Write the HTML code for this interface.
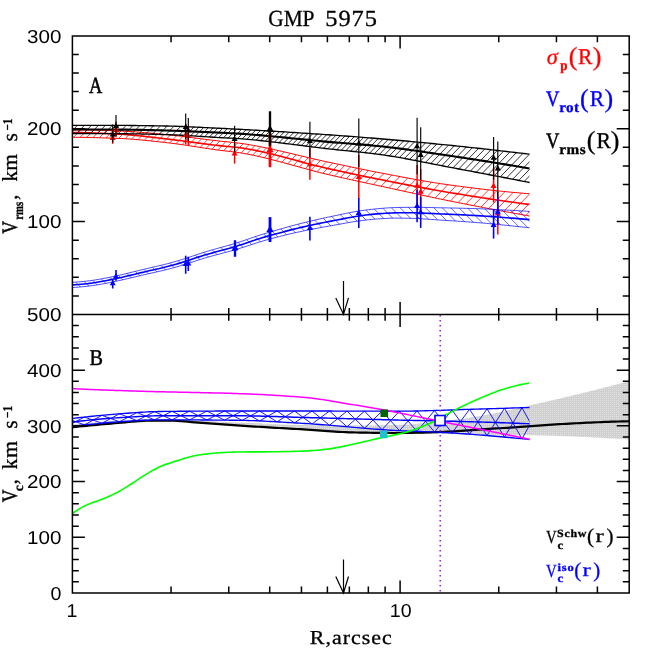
<!DOCTYPE html>
<html><head><meta charset="utf-8"><title>GMP 5975</title>
<style>html,body{margin:0;padding:0;background:#fff}svg{display:block;will-change:transform}text{-webkit-font-smoothing:antialiased;text-rendering:geometricPrecision}</style></head>
<body><svg width="664" height="664" viewBox="0 0 664 664">
<rect width="664" height="664" fill="#fff"/>
<defs>
<clipPath id="cb1"><path d="M72.50 129.80 L75.37 129.81 L78.25 129.83 L81.12 129.86 L84.00 129.90 L86.87 129.95 L89.75 130.01 L92.62 130.08 L95.49 130.15 L98.37 130.23 L101.24 130.32 L104.12 130.42 L106.99 130.52 L109.86 130.62 L112.74 130.72 L115.61 130.83 L118.49 130.94 L121.36 131.05 L124.24 131.19 L127.11 131.34 L129.98 131.51 L132.86 131.70 L135.73 131.90 L138.61 132.12 L141.48 132.35 L144.36 132.59 L147.23 132.84 L150.10 133.10 L152.98 133.37 L155.85 133.64 L158.73 133.91 L161.60 134.18 L164.47 134.46 L167.35 134.73 L170.22 135.02 L173.10 135.32 L175.97 135.64 L178.85 135.97 L181.72 136.32 L184.59 136.67 L187.47 137.03 L190.34 137.39 L193.22 137.76 L196.09 138.14 L198.97 138.51 L201.84 138.88 L204.71 139.25 L207.59 139.62 L210.46 139.97 L213.34 140.33 L216.21 140.67 L219.08 141.00 L221.96 141.31 L224.83 141.60 L227.71 141.88 L230.58 142.16 L233.46 142.46 L236.33 142.79 L239.20 143.16 L242.08 143.56 L244.95 143.99 L247.83 144.45 L250.70 144.93 L253.58 145.44 L256.45 145.97 L259.32 146.51 L262.20 147.08 L265.07 147.67 L267.95 148.27 L270.82 148.88 L273.69 149.51 L276.57 150.15 L279.44 150.81 L282.32 151.47 L285.19 152.14 L288.07 152.81 L290.94 153.49 L293.81 154.18 L296.69 154.86 L299.56 155.55 L302.44 156.23 L305.31 156.92 L308.19 157.60 L311.06 158.27 L313.93 158.94 L316.81 159.60 L319.68 160.26 L322.56 160.90 L325.43 161.53 L328.31 162.14 L331.18 162.75 L334.05 163.35 L336.93 163.95 L339.80 164.56 L342.68 165.17 L345.55 165.78 L348.42 166.38 L351.30 166.99 L354.17 167.60 L357.05 168.20 L359.92 168.79 L362.80 169.39 L365.67 169.97 L368.54 170.56 L371.42 171.13 L374.29 171.70 L377.17 172.26 L380.04 172.81 L382.92 173.35 L385.79 173.90 L388.66 174.45 L391.54 175.00 L394.41 175.54 L397.29 176.09 L400.16 176.63 L403.03 177.17 L405.91 177.71 L408.78 178.24 L411.66 178.77 L414.53 179.29 L417.41 179.80 L420.28 180.31 L423.15 180.81 L426.03 181.31 L428.90 181.79 L431.78 182.26 L434.65 182.73 L437.53 183.18 L440.40 183.62 L443.27 184.05 L446.15 184.46 L449.02 184.87 L451.90 185.26 L454.77 185.64 L457.64 186.02 L460.52 186.40 L463.39 186.77 L466.27 187.14 L469.14 187.51 L472.02 187.87 L474.89 188.22 L477.76 188.57 L480.64 188.92 L483.51 189.25 L486.39 189.59 L489.26 189.91 L492.14 190.23 L495.01 190.55 L497.88 190.86 L500.76 191.16 L503.63 191.45 L506.51 191.74 L509.38 192.02 L512.25 192.29 L515.13 192.55 L518.00 192.81 L520.88 193.06 L523.75 193.30 L526.63 193.53 L529.50 193.75 L529.50 216.00 L526.63 215.50 L523.75 214.99 L520.88 214.48 L518.00 213.96 L515.13 213.45 L512.25 212.93 L509.38 212.40 L506.51 211.88 L503.63 211.35 L500.76 210.82 L497.88 210.28 L495.01 209.75 L492.14 209.21 L489.26 208.66 L486.39 208.12 L483.51 207.57 L480.64 207.02 L477.76 206.47 L474.89 205.91 L472.02 205.36 L469.14 204.79 L466.27 204.23 L463.39 203.67 L460.52 203.10 L457.64 202.53 L454.77 201.96 L451.90 201.38 L449.02 200.80 L446.15 200.22 L443.27 199.63 L440.40 199.04 L437.53 198.44 L434.65 197.84 L431.78 197.24 L428.90 196.63 L426.03 196.02 L423.15 195.40 L420.28 194.78 L417.41 194.16 L414.53 193.54 L411.66 192.92 L408.78 192.29 L405.91 191.66 L403.03 191.03 L400.16 190.41 L397.29 189.78 L394.41 189.15 L391.54 188.52 L388.66 187.89 L385.79 187.26 L382.92 186.63 L380.04 186.01 L377.17 185.39 L374.29 184.76 L371.42 184.14 L368.54 183.52 L365.67 182.90 L362.80 182.28 L359.92 181.65 L357.05 181.03 L354.17 180.40 L351.30 179.77 L348.42 179.14 L345.55 178.51 L342.68 177.87 L339.80 177.23 L336.93 176.58 L334.05 175.93 L331.18 175.27 L328.31 174.61 L325.43 173.92 L322.56 173.22 L319.68 172.50 L316.81 171.76 L313.93 171.01 L311.06 170.25 L308.19 169.48 L305.31 168.70 L302.44 167.91 L299.56 167.12 L296.69 166.33 L293.81 165.54 L290.94 164.74 L288.07 163.95 L285.19 163.17 L282.32 162.39 L279.44 161.62 L276.57 160.86 L273.69 160.11 L270.82 159.37 L267.95 158.65 L265.07 157.95 L262.20 157.26 L259.32 156.60 L256.45 155.96 L253.58 155.34 L250.70 154.75 L247.83 154.19 L244.95 153.66 L242.08 153.15 L239.20 152.69 L236.33 152.26 L233.46 151.88 L230.58 151.53 L227.71 151.21 L224.83 150.88 L221.96 150.55 L219.08 150.18 L216.21 149.79 L213.34 149.39 L210.46 148.98 L207.59 148.55 L204.71 148.12 L201.84 147.68 L198.97 147.23 L196.09 146.79 L193.22 146.34 L190.34 145.90 L187.47 145.46 L184.59 145.04 L181.72 144.62 L178.85 144.21 L175.97 143.82 L173.10 143.44 L170.22 143.09 L167.35 142.75 L164.47 142.43 L161.60 142.12 L158.73 141.80 L155.85 141.49 L152.98 141.18 L150.10 140.87 L147.23 140.57 L144.36 140.28 L141.48 140.01 L138.61 139.74 L135.73 139.49 L132.86 139.26 L129.98 139.05 L127.11 138.86 L124.24 138.70 L121.36 138.56 L118.49 138.44 L115.61 138.33 L112.74 138.22 L109.86 138.11 L106.99 138.01 L104.12 137.91 L101.24 137.82 L98.37 137.73 L95.49 137.64 L92.62 137.57 L89.75 137.50 L86.87 137.44 L84.00 137.39 L81.12 137.35 L78.25 137.32 L75.37 137.31 L72.50 137.30 Z"/></clipPath>
<clipPath id="cb2"><path d="M72.50 282.30 L75.37 282.13 L78.25 281.92 L81.12 281.67 L84.00 281.40 L86.87 281.09 L89.75 280.72 L92.62 280.32 L95.49 279.89 L98.37 279.42 L101.24 278.92 L104.12 278.38 L106.99 277.83 L109.86 277.25 L112.74 276.65 L115.61 276.03 L118.49 275.40 L121.36 274.74 L124.24 274.06 L127.11 273.36 L129.98 272.67 L132.86 271.97 L135.73 271.27 L138.61 270.56 L141.48 269.87 L144.36 269.19 L147.23 268.51 L150.10 267.84 L152.98 267.17 L155.85 266.50 L158.73 265.84 L161.60 265.17 L164.47 264.46 L167.35 263.72 L170.22 262.94 L173.10 262.14 L175.97 261.33 L178.85 260.49 L181.72 259.63 L184.59 258.75 L187.47 257.84 L190.34 256.88 L193.22 255.88 L196.09 254.87 L198.97 253.91 L201.84 253.00 L204.71 252.11 L207.59 251.25 L210.46 250.40 L213.34 249.57 L216.21 248.76 L219.08 247.96 L221.96 247.16 L224.83 246.35 L227.71 245.55 L230.58 244.74 L233.46 243.90 L236.33 243.01 L239.20 242.10 L242.08 241.16 L244.95 240.20 L247.83 239.23 L250.70 238.22 L253.58 237.22 L256.45 236.25 L259.32 235.31 L262.20 234.39 L265.07 233.49 L267.95 232.61 L270.82 231.76 L273.69 230.94 L276.57 230.13 L279.44 229.31 L282.32 228.49 L285.19 227.66 L288.07 226.84 L290.94 226.05 L293.81 225.29 L296.69 224.54 L299.56 223.81 L302.44 223.09 L305.31 222.38 L308.19 221.68 L311.06 221.00 L313.93 220.32 L316.81 219.66 L319.68 219.00 L322.56 218.36 L325.43 217.73 L328.31 217.12 L331.18 216.52 L334.05 215.92 L336.93 215.32 L339.80 214.70 L342.68 214.07 L345.55 213.46 L348.42 212.88 L351.30 212.33 L354.17 211.81 L357.05 211.31 L359.92 210.86 L362.80 210.44 L365.67 210.04 L368.54 209.67 L371.42 209.34 L374.29 209.04 L377.17 208.76 L380.04 208.51 L382.92 208.28 L385.79 208.06 L388.66 207.85 L391.54 207.68 L394.41 207.56 L397.29 207.50 L400.16 207.45 L403.03 207.41 L405.91 207.37 L408.78 207.34 L411.66 207.30 L414.53 207.27 L417.41 207.26 L420.28 207.29 L423.15 207.35 L426.03 207.42 L428.90 207.50 L431.78 207.57 L434.65 207.64 L437.53 207.72 L440.40 207.79 L443.27 207.84 L446.15 207.89 L449.02 207.94 L451.90 208.00 L454.77 208.06 L457.64 208.13 L460.52 208.20 L463.39 208.27 L466.27 208.35 L469.14 208.43 L472.02 208.51 L474.89 208.61 L477.76 208.70 L480.64 208.81 L483.51 208.92 L486.39 209.05 L489.26 209.18 L492.14 209.32 L495.01 209.47 L497.88 209.62 L500.76 209.77 L503.63 209.92 L506.51 210.08 L509.38 210.23 L512.25 210.39 L515.13 210.55 L518.00 210.72 L520.88 210.88 L523.75 211.05 L526.63 211.22 L529.50 211.40 L529.50 227.80 L526.63 227.48 L523.75 227.17 L520.88 226.85 L518.00 226.55 L515.13 226.24 L512.25 225.94 L509.38 225.64 L506.51 225.35 L503.63 225.06 L500.76 224.77 L497.88 224.48 L495.01 224.20 L492.14 223.91 L489.26 223.64 L486.39 223.37 L483.51 223.12 L480.64 222.87 L477.76 222.64 L474.89 222.41 L472.02 222.19 L469.14 221.98 L466.27 221.77 L463.39 221.57 L460.52 221.37 L457.64 221.17 L454.77 220.98 L451.90 220.79 L449.02 220.61 L446.15 220.43 L443.27 220.26 L440.40 220.07 L437.53 219.87 L434.65 219.67 L431.78 219.46 L428.90 219.26 L426.03 219.06 L423.15 218.86 L420.28 218.68 L417.41 218.54 L414.53 218.44 L411.66 218.35 L408.78 218.28 L405.91 218.23 L403.03 218.18 L400.16 218.14 L397.29 218.11 L394.41 218.10 L391.54 218.15 L388.66 218.27 L385.79 218.43 L382.92 218.60 L380.04 218.78 L377.17 218.99 L374.29 219.23 L371.42 219.49 L368.54 219.77 L365.67 220.09 L362.80 220.44 L359.92 220.82 L357.05 221.22 L354.17 221.65 L351.30 222.12 L348.42 222.59 L345.55 223.10 L342.68 223.63 L339.80 224.18 L336.93 224.70 L334.05 225.21 L331.18 225.70 L328.31 226.20 L325.43 226.70 L322.56 227.23 L319.68 227.76 L316.81 228.30 L313.93 228.85 L311.06 229.41 L308.19 229.98 L305.31 230.56 L302.44 231.16 L299.56 231.77 L296.69 232.39 L293.81 233.02 L290.94 233.68 L288.07 234.37 L285.19 235.08 L282.32 235.82 L279.44 236.55 L276.57 237.28 L273.69 238.01 L270.82 238.76 L267.95 239.53 L265.07 240.35 L262.20 241.19 L259.32 242.06 L256.45 242.95 L253.58 243.87 L250.70 244.83 L247.83 245.79 L244.95 246.72 L242.08 247.63 L239.20 248.52 L236.33 249.40 L233.46 250.24 L230.58 251.05 L227.71 251.82 L224.83 252.58 L221.96 253.35 L219.08 254.12 L216.21 254.88 L213.34 255.66 L210.46 256.45 L207.59 257.27 L204.71 258.10 L201.84 258.96 L198.97 259.84 L196.09 260.77 L193.22 261.75 L190.34 262.73 L187.47 263.66 L184.59 264.55 L181.72 265.41 L178.85 266.24 L175.97 267.05 L173.10 267.85 L170.22 268.63 L167.35 269.39 L164.47 270.11 L161.60 270.79 L158.73 271.45 L155.85 272.09 L152.98 272.74 L150.10 273.39 L147.23 274.04 L144.36 274.70 L141.48 275.36 L138.61 276.04 L135.73 276.72 L132.86 277.41 L129.98 278.09 L127.11 278.77 L124.24 279.44 L121.36 280.11 L118.49 280.75 L115.61 281.38 L112.74 281.98 L109.86 282.57 L106.99 283.13 L104.12 283.67 L101.24 284.19 L98.37 284.69 L95.49 285.14 L92.62 285.56 L89.75 285.96 L86.87 286.32 L84.00 286.62 L81.12 286.89 L78.25 287.13 L75.37 287.33 L72.50 287.50 Z"/></clipPath>
<clipPath id="cb3"><path d="M72.50 125.30 L75.37 125.30 L78.25 125.30 L81.12 125.30 L84.00 125.31 L86.87 125.31 L89.75 125.32 L92.62 125.32 L95.49 125.33 L98.37 125.33 L101.24 125.34 L104.12 125.35 L106.99 125.36 L109.86 125.37 L112.74 125.37 L115.61 125.38 L118.49 125.39 L121.36 125.41 L124.24 125.42 L127.11 125.44 L129.98 125.46 L132.86 125.49 L135.73 125.52 L138.61 125.55 L141.48 125.59 L144.36 125.63 L147.23 125.67 L150.10 125.71 L152.98 125.76 L155.85 125.81 L158.73 125.86 L161.60 125.92 L164.47 125.97 L167.35 126.03 L170.22 126.10 L173.10 126.18 L175.97 126.27 L178.85 126.37 L181.72 126.48 L184.59 126.59 L187.47 126.72 L190.34 126.84 L193.22 126.98 L196.09 127.12 L198.97 127.26 L201.84 127.40 L204.71 127.55 L207.59 127.69 L210.46 127.84 L213.34 127.98 L216.21 128.12 L219.08 128.26 L221.96 128.39 L224.83 128.53 L227.71 128.67 L230.58 128.81 L233.46 128.96 L236.33 129.11 L239.20 129.27 L242.08 129.42 L244.95 129.58 L247.83 129.74 L250.70 129.90 L253.58 130.06 L256.45 130.23 L259.32 130.39 L262.20 130.56 L265.07 130.73 L267.95 130.90 L270.82 131.07 L273.69 131.24 L276.57 131.42 L279.44 131.59 L282.32 131.77 L285.19 131.95 L288.07 132.13 L290.94 132.31 L293.81 132.49 L296.69 132.67 L299.56 132.86 L302.44 133.05 L305.31 133.23 L308.19 133.42 L311.06 133.61 L313.93 133.80 L316.81 134.00 L319.68 134.19 L322.56 134.39 L325.43 134.58 L328.31 134.78 L331.18 134.98 L334.05 135.18 L336.93 135.39 L339.80 135.60 L342.68 135.81 L345.55 136.02 L348.42 136.23 L351.30 136.45 L354.17 136.67 L357.05 136.89 L359.92 137.12 L362.80 137.34 L365.67 137.57 L368.54 137.80 L371.42 138.04 L374.29 138.27 L377.17 138.51 L380.04 138.75 L382.92 139.00 L385.79 139.24 L388.66 139.49 L391.54 139.74 L394.41 139.99 L397.29 140.25 L400.16 140.51 L403.03 140.76 L405.91 141.03 L408.78 141.29 L411.66 141.56 L414.53 141.83 L417.41 142.10 L420.28 142.37 L423.15 142.64 L426.03 142.92 L428.90 143.20 L431.78 143.48 L434.65 143.76 L437.53 144.05 L440.40 144.33 L443.27 144.62 L446.15 144.91 L449.02 145.20 L451.90 145.49 L454.77 145.79 L457.64 146.09 L460.52 146.38 L463.39 146.69 L466.27 146.99 L469.14 147.30 L472.02 147.60 L474.89 147.91 L477.76 148.23 L480.64 148.54 L483.51 148.86 L486.39 149.18 L489.26 149.50 L492.14 149.82 L495.01 150.14 L497.88 150.47 L500.76 150.80 L503.63 151.13 L506.51 151.46 L509.38 151.80 L512.25 152.14 L515.13 152.48 L518.00 152.82 L520.88 153.16 L523.75 153.50 L526.63 153.85 L529.50 154.20 L529.50 182.50 L526.63 181.94 L523.75 181.38 L520.88 180.82 L518.00 180.26 L515.13 179.70 L512.25 179.14 L509.38 178.59 L506.51 178.03 L503.63 177.48 L500.76 176.92 L497.88 176.37 L495.01 175.82 L492.14 175.27 L489.26 174.72 L486.39 174.17 L483.51 173.62 L480.64 173.08 L477.76 172.53 L474.89 171.98 L472.02 171.44 L469.14 170.90 L466.27 170.35 L463.39 169.81 L460.52 169.27 L457.64 168.73 L454.77 168.19 L451.90 167.65 L449.02 167.12 L446.15 166.57 L443.27 166.02 L440.40 165.46 L437.53 164.90 L434.65 164.33 L431.78 163.76 L428.90 163.19 L426.03 162.62 L423.15 162.05 L420.28 161.48 L417.41 160.92 L414.53 160.36 L411.66 159.81 L408.78 159.26 L405.91 158.73 L403.03 158.20 L400.16 157.69 L397.29 157.18 L394.41 156.70 L391.54 156.22 L388.66 155.77 L385.79 155.33 L382.92 154.91 L380.04 154.51 L377.17 154.12 L374.29 153.76 L371.42 153.41 L368.54 153.07 L365.67 152.74 L362.80 152.42 L359.92 152.11 L357.05 151.81 L354.17 151.51 L351.30 151.22 L348.42 150.93 L345.55 150.64 L342.68 150.34 L339.80 150.05 L336.93 149.75 L334.05 149.44 L331.18 149.13 L328.31 148.81 L325.43 148.48 L322.56 148.14 L319.68 147.80 L316.81 147.45 L313.93 147.10 L311.06 146.74 L308.19 146.38 L305.31 146.02 L302.44 145.65 L299.56 145.29 L296.69 144.92 L293.81 144.55 L290.94 144.19 L288.07 143.82 L285.19 143.46 L282.32 143.11 L279.44 142.75 L276.57 142.41 L273.69 142.06 L270.82 141.73 L267.95 141.40 L265.07 141.08 L262.20 140.77 L259.32 140.47 L256.45 140.17 L253.58 139.89 L250.70 139.62 L247.83 139.37 L244.95 139.13 L242.08 138.90 L239.20 138.68 L236.33 138.49 L233.46 138.31 L230.58 138.15 L227.71 138.00 L224.83 137.86 L221.96 137.71 L219.08 137.55 L216.21 137.38 L213.34 137.21 L210.46 137.03 L207.59 136.85 L204.71 136.67 L201.84 136.48 L198.97 136.30 L196.09 136.11 L193.22 135.93 L190.34 135.75 L187.47 135.58 L184.59 135.42 L181.72 135.26 L178.85 135.11 L175.97 134.98 L173.10 134.85 L170.22 134.74 L167.35 134.64 L164.47 134.56 L161.60 134.48 L158.73 134.40 L155.85 134.32 L152.98 134.25 L150.10 134.18 L147.23 134.12 L144.36 134.05 L141.48 134.00 L138.61 133.94 L135.73 133.89 L132.86 133.84 L129.98 133.80 L127.11 133.77 L124.24 133.74 L121.36 133.71 L118.49 133.69 L115.61 133.67 L112.74 133.65 L109.86 133.63 L106.99 133.62 L104.12 133.60 L101.24 133.58 L98.37 133.57 L95.49 133.56 L92.62 133.54 L89.75 133.53 L86.87 133.52 L84.00 133.51 L81.12 133.51 L78.25 133.50 L75.37 133.50 L72.50 133.50 Z"/></clipPath>
<pattern id="stip" width="2" height="2" patternUnits="userSpaceOnUse"><rect width="2" height="2" fill="#cfcfcf"/><rect width="1" height="1" fill="#e2e2e2"/></pattern>
<clipPath id="cbiso"><rect x="72.40" y="380" width="457.10" height="80"/></clipPath>
</defs>
<path d="M12.50 174.20 L92.50 91.00 M18.90 174.20 L98.90 91.00 M25.30 174.20 L105.30 91.00 M31.70 174.20 L111.70 91.00 M38.10 174.23 L118.10 91.03 M44.49 174.34 L124.49 91.14 M50.86 174.51 L130.86 91.31 M57.23 174.74 L137.23 91.54 M63.59 175.00 L143.59 91.80 M69.93 175.30 L149.93 92.10 M76.26 175.61 L156.26 92.41 M82.59 175.94 L162.59 92.74 M88.90 176.40 L168.90 93.20 M95.20 176.97 L175.20 93.77 M101.49 177.63 L181.49 94.43 M107.77 178.34 L187.77 95.14 M114.03 179.09 L194.03 95.89 M120.29 179.84 L200.29 96.64 M126.53 180.56 L206.53 97.36 M132.77 181.30 L212.77 98.10 M138.99 182.07 L218.99 98.87 M145.20 182.88 L225.20 99.68 M151.40 183.71 L231.40 100.51 M157.56 184.53 L237.56 101.33 M163.68 185.33 L243.68 102.13 M169.75 186.10 L249.75 102.90 M175.77 186.82 L255.77 103.62 M181.75 187.48 L261.75 104.28 M187.69 188.04 L267.69 104.84 M193.58 188.59 L273.58 105.39 M199.43 189.29 L279.43 106.09 M205.23 190.15 L285.23 106.95 M211.04 191.16 L291.04 107.96 M216.86 192.30 L296.86 109.10 M222.69 193.54 L302.69 110.34 M228.52 194.89 L308.52 111.69 M234.37 196.32 L314.37 113.12 M240.23 197.81 L320.23 114.61 M246.09 199.35 L326.09 116.15 M251.97 200.92 L331.97 117.72 M257.86 202.51 L337.86 119.31 M263.75 204.09 L343.75 120.89 M269.66 205.65 L349.66 122.45 M275.58 207.17 L355.58 123.97 M281.50 208.63 L361.50 125.43 M287.44 210.03 L367.44 126.83 M293.38 211.34 L373.38 128.14 M299.34 212.64 L379.34 129.44 M305.31 213.93 L385.31 130.73 M311.28 215.20 L391.28 132.00 M317.27 216.46 L397.27 133.26 M323.26 217.71 L403.26 134.51 M330.50 219.19 L410.50 135.99 M338.40 220.78 L418.40 137.58 M346.30 222.35 L426.30 139.15 M354.20 223.91 L434.20 140.71 M362.10 225.45 L442.10 142.25 M370.00 226.98 L450.00 143.78 M377.90 228.48 L457.90 145.28 M385.80 229.95 L465.80 146.75 M393.70 231.38 L473.70 148.18 M401.60 232.77 L481.60 149.57 M409.50 234.12 L489.50 150.92 M417.40 235.42 L497.40 152.22 M425.30 236.71 L505.30 153.51 M433.20 237.97 L513.20 154.77 M441.10 239.20 L521.10 156.00 M449.00 240.40 L529.00 157.20 M456.90 241.58 L536.90 158.38 M464.80 242.73 L544.80 159.53 M472.70 243.84 L552.70 160.64 M480.60 244.92 L560.60 161.72 M488.50 245.97 L568.50 162.77 M496.40 246.10 L576.40 162.90 M504.30 246.10 L584.30 162.90 M512.20 246.10 L592.20 162.90" stroke="#ff0000" stroke-width="0.75" fill="none" clip-path="url(#cb1)"/>
<path d="M72.50 129.80 L75.37 129.81 L78.25 129.83 L81.12 129.86 L84.00 129.90 L86.87 129.95 L89.75 130.01 L92.62 130.08 L95.49 130.15 L98.37 130.23 L101.24 130.32 L104.12 130.42 L106.99 130.52 L109.86 130.62 L112.74 130.72 L115.61 130.83 L118.49 130.94 L121.36 131.05 L124.24 131.19 L127.11 131.34 L129.98 131.51 L132.86 131.70 L135.73 131.90 L138.61 132.12 L141.48 132.35 L144.36 132.59 L147.23 132.84 L150.10 133.10 L152.98 133.37 L155.85 133.64 L158.73 133.91 L161.60 134.18 L164.47 134.46 L167.35 134.73 L170.22 135.02 L173.10 135.32 L175.97 135.64 L178.85 135.97 L181.72 136.32 L184.59 136.67 L187.47 137.03 L190.34 137.39 L193.22 137.76 L196.09 138.14 L198.97 138.51 L201.84 138.88 L204.71 139.25 L207.59 139.62 L210.46 139.97 L213.34 140.33 L216.21 140.67 L219.08 141.00 L221.96 141.31 L224.83 141.60 L227.71 141.88 L230.58 142.16 L233.46 142.46 L236.33 142.79 L239.20 143.16 L242.08 143.56 L244.95 143.99 L247.83 144.45 L250.70 144.93 L253.58 145.44 L256.45 145.97 L259.32 146.51 L262.20 147.08 L265.07 147.67 L267.95 148.27 L270.82 148.88 L273.69 149.51 L276.57 150.15 L279.44 150.81 L282.32 151.47 L285.19 152.14 L288.07 152.81 L290.94 153.49 L293.81 154.18 L296.69 154.86 L299.56 155.55 L302.44 156.23 L305.31 156.92 L308.19 157.60 L311.06 158.27 L313.93 158.94 L316.81 159.60 L319.68 160.26 L322.56 160.90 L325.43 161.53 L328.31 162.14 L331.18 162.75 L334.05 163.35 L336.93 163.95 L339.80 164.56 L342.68 165.17 L345.55 165.78 L348.42 166.38 L351.30 166.99 L354.17 167.60 L357.05 168.20 L359.92 168.79 L362.80 169.39 L365.67 169.97 L368.54 170.56 L371.42 171.13 L374.29 171.70 L377.17 172.26 L380.04 172.81 L382.92 173.35 L385.79 173.90 L388.66 174.45 L391.54 175.00 L394.41 175.54 L397.29 176.09 L400.16 176.63 L403.03 177.17 L405.91 177.71 L408.78 178.24 L411.66 178.77 L414.53 179.29 L417.41 179.80 L420.28 180.31 L423.15 180.81 L426.03 181.31 L428.90 181.79 L431.78 182.26 L434.65 182.73 L437.53 183.18 L440.40 183.62 L443.27 184.05 L446.15 184.46 L449.02 184.87 L451.90 185.26 L454.77 185.64 L457.64 186.02 L460.52 186.40 L463.39 186.77 L466.27 187.14 L469.14 187.51 L472.02 187.87 L474.89 188.22 L477.76 188.57 L480.64 188.92 L483.51 189.25 L486.39 189.59 L489.26 189.91 L492.14 190.23 L495.01 190.55 L497.88 190.86 L500.76 191.16 L503.63 191.45 L506.51 191.74 L509.38 192.02 L512.25 192.29 L515.13 192.55 L518.00 192.81 L520.88 193.06 L523.75 193.30 L526.63 193.53 L529.50 193.75" stroke="#ff0000" stroke-width="1.00" fill="none"/>
<path d="M72.50 137.30 L75.37 137.31 L78.25 137.32 L81.12 137.35 L84.00 137.39 L86.87 137.44 L89.75 137.50 L92.62 137.57 L95.49 137.64 L98.37 137.73 L101.24 137.82 L104.12 137.91 L106.99 138.01 L109.86 138.11 L112.74 138.22 L115.61 138.33 L118.49 138.44 L121.36 138.56 L124.24 138.70 L127.11 138.86 L129.98 139.05 L132.86 139.26 L135.73 139.49 L138.61 139.74 L141.48 140.01 L144.36 140.28 L147.23 140.57 L150.10 140.87 L152.98 141.18 L155.85 141.49 L158.73 141.80 L161.60 142.12 L164.47 142.43 L167.35 142.75 L170.22 143.09 L173.10 143.44 L175.97 143.82 L178.85 144.21 L181.72 144.62 L184.59 145.04 L187.47 145.46 L190.34 145.90 L193.22 146.34 L196.09 146.79 L198.97 147.23 L201.84 147.68 L204.71 148.12 L207.59 148.55 L210.46 148.98 L213.34 149.39 L216.21 149.79 L219.08 150.18 L221.96 150.55 L224.83 150.88 L227.71 151.21 L230.58 151.53 L233.46 151.88 L236.33 152.26 L239.20 152.69 L242.08 153.15 L244.95 153.66 L247.83 154.19 L250.70 154.75 L253.58 155.34 L256.45 155.96 L259.32 156.60 L262.20 157.26 L265.07 157.95 L267.95 158.65 L270.82 159.37 L273.69 160.11 L276.57 160.86 L279.44 161.62 L282.32 162.39 L285.19 163.17 L288.07 163.95 L290.94 164.74 L293.81 165.54 L296.69 166.33 L299.56 167.12 L302.44 167.91 L305.31 168.70 L308.19 169.48 L311.06 170.25 L313.93 171.01 L316.81 171.76 L319.68 172.50 L322.56 173.22 L325.43 173.92 L328.31 174.61 L331.18 175.27 L334.05 175.93 L336.93 176.58 L339.80 177.23 L342.68 177.87 L345.55 178.51 L348.42 179.14 L351.30 179.77 L354.17 180.40 L357.05 181.03 L359.92 181.65 L362.80 182.28 L365.67 182.90 L368.54 183.52 L371.42 184.14 L374.29 184.76 L377.17 185.39 L380.04 186.01 L382.92 186.63 L385.79 187.26 L388.66 187.89 L391.54 188.52 L394.41 189.15 L397.29 189.78 L400.16 190.41 L403.03 191.03 L405.91 191.66 L408.78 192.29 L411.66 192.92 L414.53 193.54 L417.41 194.16 L420.28 194.78 L423.15 195.40 L426.03 196.02 L428.90 196.63 L431.78 197.24 L434.65 197.84 L437.53 198.44 L440.40 199.04 L443.27 199.63 L446.15 200.22 L449.02 200.80 L451.90 201.38 L454.77 201.96 L457.64 202.53 L460.52 203.10 L463.39 203.67 L466.27 204.23 L469.14 204.79 L472.02 205.36 L474.89 205.91 L477.76 206.47 L480.64 207.02 L483.51 207.57 L486.39 208.12 L489.26 208.66 L492.14 209.21 L495.01 209.75 L497.88 210.28 L500.76 210.82 L503.63 211.35 L506.51 211.88 L509.38 212.40 L512.25 212.93 L515.13 213.45 L518.00 213.96 L520.88 214.48 L523.75 214.99 L526.63 215.50 L529.50 216.00" stroke="#ff0000" stroke-width="1.00" fill="none"/>
<path d="M72.50 132.60 L75.37 132.61 L78.25 132.63 L81.12 132.67 L84.00 132.73 L86.87 132.80 L89.75 132.88 L92.62 132.97 L95.49 133.07 L98.37 133.18 L101.24 133.30 L104.12 133.43 L106.99 133.56 L109.86 133.69 L112.74 133.83 L115.61 133.98 L118.49 134.12 L121.36 134.27 L124.24 134.45 L127.11 134.66 L129.98 134.89 L132.86 135.14 L135.73 135.42 L138.61 135.72 L141.48 136.03 L144.36 136.35 L147.23 136.68 L150.10 137.02 L152.98 137.36 L155.85 137.71 L158.73 138.05 L161.60 138.39 L164.47 138.73 L167.35 139.05 L170.22 139.39 L173.10 139.74 L175.97 140.09 L178.85 140.46 L181.72 140.83 L184.59 141.20 L187.47 141.58 L190.34 141.97 L193.22 142.35 L196.09 142.73 L198.97 143.11 L201.84 143.49 L204.71 143.86 L207.59 144.23 L210.46 144.59 L213.34 144.94 L216.21 145.27 L219.08 145.60 L221.96 145.91 L224.83 146.18 L227.71 146.44 L230.58 146.70 L233.46 146.98 L236.33 147.30 L239.20 147.66 L242.08 148.06 L244.95 148.51 L247.83 148.98 L250.70 149.50 L253.58 150.04 L256.45 150.61 L259.32 151.21 L262.20 151.84 L265.07 152.49 L267.95 153.16 L270.82 153.84 L273.69 154.55 L276.57 155.27 L279.44 156.01 L282.32 156.76 L285.19 157.51 L288.07 158.28 L290.94 159.04 L293.81 159.82 L296.69 160.59 L299.56 161.36 L302.44 162.13 L305.31 162.90 L308.19 163.66 L311.06 164.41 L313.93 165.15 L316.81 165.88 L319.68 166.59 L322.56 167.29 L325.43 167.97 L328.31 168.62 L331.18 169.26 L334.05 169.89 L336.93 170.52 L339.80 171.14 L342.68 171.76 L345.55 172.38 L348.42 172.99 L351.30 173.60 L354.17 174.21 L357.05 174.81 L359.92 175.41 L362.80 176.01 L365.67 176.60 L368.54 177.19 L371.42 177.78 L374.29 178.36 L377.17 178.94 L380.04 179.51 L382.92 180.08 L385.79 180.65 L388.66 181.22 L391.54 181.78 L394.41 182.35 L397.29 182.91 L400.16 183.47 L403.03 184.03 L405.91 184.59 L408.78 185.14 L411.66 185.69 L414.53 186.24 L417.41 186.78 L420.28 187.32 L423.15 187.86 L426.03 188.39 L428.90 188.91 L431.78 189.43 L434.65 189.95 L437.53 190.46 L440.40 190.96 L443.27 191.46 L446.15 191.95 L449.02 192.44 L451.90 192.92 L454.77 193.39 L457.64 193.86 L460.52 194.33 L463.39 194.80 L466.27 195.26 L469.14 195.72 L472.02 196.18 L474.89 196.63 L477.76 197.08 L480.64 197.53 L483.51 197.97 L486.39 198.41 L489.26 198.84 L492.14 199.27 L495.01 199.70 L497.88 200.12 L500.76 200.54 L503.63 200.96 L506.51 201.37 L509.38 201.78 L512.25 202.18 L515.13 202.58 L518.00 202.97 L520.88 203.36 L523.75 203.74 L526.63 204.12 L529.50 204.50" stroke="#ff0000" stroke-width="1.60" fill="none"/>
<path d="M12.50 244.90 L92.50 324.90 M21.00 244.90 L101.00 324.90 M29.50 244.90 L109.50 324.90 M38.00 244.55 L118.00 324.55 M46.50 243.75 L126.50 323.75 M55.01 242.59 L135.01 322.59 M63.53 241.13 L143.53 321.13 M72.05 239.45 L152.05 319.45 M80.58 237.60 L160.58 317.60 M89.11 235.59 L169.11 315.59 M97.65 233.54 L177.65 313.54 M106.19 231.49 L186.19 311.49 M114.74 229.57 L194.74 309.57 M123.29 227.58 L203.29 307.58 M131.85 225.34 L211.85 305.34 M140.42 222.90 L220.42 302.90 M148.99 220.26 L228.99 300.26 M157.56 217.34 L237.56 297.34 M166.15 214.66 L246.15 294.66 M174.73 212.23 L254.73 292.23 M183.33 209.89 L263.33 289.89 M191.93 207.52 L271.93 287.52 M200.53 204.88 L280.53 284.88 M209.14 202.09 L289.14 282.09 M217.76 199.16 L297.76 279.16 M226.38 196.51 L306.38 276.51 M235.01 194.14 L315.01 274.14 M243.64 191.79 L323.64 271.79 M252.28 189.53 L332.28 269.53 M260.92 187.47 L340.92 267.47 M269.57 185.53 L349.57 265.53 M278.23 183.68 L358.23 263.68 M286.89 181.93 L366.89 261.93 M295.56 180.28 L375.56 260.28 M304.23 178.55 L384.23 258.55 M312.91 176.95 L392.91 256.95 M321.59 175.60 L401.59 255.60 M330.28 174.53 L410.28 254.53 M338.98 173.71 L418.98 253.71 M347.68 173.14 L427.68 253.14 M356.38 172.80 L436.38 252.80 M365.10 172.80 L445.10 252.80 M373.82 172.82 L453.82 252.82 M382.54 173.11 L462.54 253.11 M391.27 173.49 L471.27 253.49 M400.00 173.91 L480.00 253.91 M408.75 174.27 L488.75 254.27 M417.49 174.64 L497.49 254.64 M426.24 175.06 L506.24 255.06 M435.00 175.51 L515.00 255.51 M443.77 176.03 L523.77 256.03 M452.54 176.65 L532.54 256.65 M461.31 177.32 L541.31 257.32 M470.09 178.00 L550.09 258.00 M478.88 178.70 L558.88 258.70 M487.67 179.44 L567.67 259.44 M496.47 179.60 L576.47 259.60 M505.27 179.60 L585.27 259.60 M514.07 179.60 L594.07 259.60" stroke="#0000ff" stroke-width="0.60" fill="none" clip-path="url(#cb2)"/>
<path d="M72.50 282.30 L75.37 282.13 L78.25 281.92 L81.12 281.67 L84.00 281.40 L86.87 281.09 L89.75 280.72 L92.62 280.32 L95.49 279.89 L98.37 279.42 L101.24 278.92 L104.12 278.38 L106.99 277.83 L109.86 277.25 L112.74 276.65 L115.61 276.03 L118.49 275.40 L121.36 274.74 L124.24 274.06 L127.11 273.36 L129.98 272.67 L132.86 271.97 L135.73 271.27 L138.61 270.56 L141.48 269.87 L144.36 269.19 L147.23 268.51 L150.10 267.84 L152.98 267.17 L155.85 266.50 L158.73 265.84 L161.60 265.17 L164.47 264.46 L167.35 263.72 L170.22 262.94 L173.10 262.14 L175.97 261.33 L178.85 260.49 L181.72 259.63 L184.59 258.75 L187.47 257.84 L190.34 256.88 L193.22 255.88 L196.09 254.87 L198.97 253.91 L201.84 253.00 L204.71 252.11 L207.59 251.25 L210.46 250.40 L213.34 249.57 L216.21 248.76 L219.08 247.96 L221.96 247.16 L224.83 246.35 L227.71 245.55 L230.58 244.74 L233.46 243.90 L236.33 243.01 L239.20 242.10 L242.08 241.16 L244.95 240.20 L247.83 239.23 L250.70 238.22 L253.58 237.22 L256.45 236.25 L259.32 235.31 L262.20 234.39 L265.07 233.49 L267.95 232.61 L270.82 231.76 L273.69 230.94 L276.57 230.13 L279.44 229.31 L282.32 228.49 L285.19 227.66 L288.07 226.84 L290.94 226.05 L293.81 225.29 L296.69 224.54 L299.56 223.81 L302.44 223.09 L305.31 222.38 L308.19 221.68 L311.06 221.00 L313.93 220.32 L316.81 219.66 L319.68 219.00 L322.56 218.36 L325.43 217.73 L328.31 217.12 L331.18 216.52 L334.05 215.92 L336.93 215.32 L339.80 214.70 L342.68 214.07 L345.55 213.46 L348.42 212.88 L351.30 212.33 L354.17 211.81 L357.05 211.31 L359.92 210.86 L362.80 210.44 L365.67 210.04 L368.54 209.67 L371.42 209.34 L374.29 209.04 L377.17 208.76 L380.04 208.51 L382.92 208.28 L385.79 208.06 L388.66 207.85 L391.54 207.68 L394.41 207.56 L397.29 207.50 L400.16 207.45 L403.03 207.41 L405.91 207.37 L408.78 207.34 L411.66 207.30 L414.53 207.27 L417.41 207.26 L420.28 207.29 L423.15 207.35 L426.03 207.42 L428.90 207.50 L431.78 207.57 L434.65 207.64 L437.53 207.72 L440.40 207.79 L443.27 207.84 L446.15 207.89 L449.02 207.94 L451.90 208.00 L454.77 208.06 L457.64 208.13 L460.52 208.20 L463.39 208.27 L466.27 208.35 L469.14 208.43 L472.02 208.51 L474.89 208.61 L477.76 208.70 L480.64 208.81 L483.51 208.92 L486.39 209.05 L489.26 209.18 L492.14 209.32 L495.01 209.47 L497.88 209.62 L500.76 209.77 L503.63 209.92 L506.51 210.08 L509.38 210.23 L512.25 210.39 L515.13 210.55 L518.00 210.72 L520.88 210.88 L523.75 211.05 L526.63 211.22 L529.50 211.40" stroke="#0000ff" stroke-width="0.70" fill="none"/>
<path d="M72.50 287.50 L75.37 287.33 L78.25 287.13 L81.12 286.89 L84.00 286.62 L86.87 286.32 L89.75 285.96 L92.62 285.56 L95.49 285.14 L98.37 284.69 L101.24 284.19 L104.12 283.67 L106.99 283.13 L109.86 282.57 L112.74 281.98 L115.61 281.38 L118.49 280.75 L121.36 280.11 L124.24 279.44 L127.11 278.77 L129.98 278.09 L132.86 277.41 L135.73 276.72 L138.61 276.04 L141.48 275.36 L144.36 274.70 L147.23 274.04 L150.10 273.39 L152.98 272.74 L155.85 272.09 L158.73 271.45 L161.60 270.79 L164.47 270.11 L167.35 269.39 L170.22 268.63 L173.10 267.85 L175.97 267.05 L178.85 266.24 L181.72 265.41 L184.59 264.55 L187.47 263.66 L190.34 262.73 L193.22 261.75 L196.09 260.77 L198.97 259.84 L201.84 258.96 L204.71 258.10 L207.59 257.27 L210.46 256.45 L213.34 255.66 L216.21 254.88 L219.08 254.12 L221.96 253.35 L224.83 252.58 L227.71 251.82 L230.58 251.05 L233.46 250.24 L236.33 249.40 L239.20 248.52 L242.08 247.63 L244.95 246.72 L247.83 245.79 L250.70 244.83 L253.58 243.87 L256.45 242.95 L259.32 242.06 L262.20 241.19 L265.07 240.35 L267.95 239.53 L270.82 238.76 L273.69 238.01 L276.57 237.28 L279.44 236.55 L282.32 235.82 L285.19 235.08 L288.07 234.37 L290.94 233.68 L293.81 233.02 L296.69 232.39 L299.56 231.77 L302.44 231.16 L305.31 230.56 L308.19 229.98 L311.06 229.41 L313.93 228.85 L316.81 228.30 L319.68 227.76 L322.56 227.23 L325.43 226.70 L328.31 226.20 L331.18 225.70 L334.05 225.21 L336.93 224.70 L339.80 224.18 L342.68 223.63 L345.55 223.10 L348.42 222.59 L351.30 222.12 L354.17 221.65 L357.05 221.22 L359.92 220.82 L362.80 220.44 L365.67 220.09 L368.54 219.77 L371.42 219.49 L374.29 219.23 L377.17 218.99 L380.04 218.78 L382.92 218.60 L385.79 218.43 L388.66 218.27 L391.54 218.15 L394.41 218.10 L397.29 218.11 L400.16 218.14 L403.03 218.18 L405.91 218.23 L408.78 218.28 L411.66 218.35 L414.53 218.44 L417.41 218.54 L420.28 218.68 L423.15 218.86 L426.03 219.06 L428.90 219.26 L431.78 219.46 L434.65 219.67 L437.53 219.87 L440.40 220.07 L443.27 220.26 L446.15 220.43 L449.02 220.61 L451.90 220.79 L454.77 220.98 L457.64 221.17 L460.52 221.37 L463.39 221.57 L466.27 221.77 L469.14 221.98 L472.02 222.19 L474.89 222.41 L477.76 222.64 L480.64 222.87 L483.51 223.12 L486.39 223.37 L489.26 223.64 L492.14 223.91 L495.01 224.20 L497.88 224.48 L500.76 224.77 L503.63 225.06 L506.51 225.35 L509.38 225.64 L512.25 225.94 L515.13 226.24 L518.00 226.55 L520.88 226.85 L523.75 227.17 L526.63 227.48 L529.50 227.80" stroke="#0000ff" stroke-width="0.70" fill="none"/>
<path d="M72.50 284.90 L75.37 284.74 L78.25 284.53 L81.12 284.29 L84.00 284.01 L86.87 283.71 L89.75 283.37 L92.62 282.97 L95.49 282.51 L98.37 282.03 L101.24 281.53 L104.12 281.02 L106.99 280.48 L109.86 279.90 L112.74 279.31 L115.61 278.70 L118.49 278.08 L121.36 277.42 L124.24 276.75 L127.11 276.07 L129.98 275.38 L132.86 274.70 L135.73 274.01 L138.61 273.31 L141.48 272.61 L144.36 271.92 L147.23 271.25 L150.10 270.59 L152.98 269.95 L155.85 269.32 L158.73 268.67 L161.60 268.00 L164.47 267.29 L167.35 266.55 L170.22 265.78 L173.10 265.00 L175.97 264.19 L178.85 263.36 L181.72 262.51 L184.59 261.64 L187.47 260.75 L190.34 259.81 L193.22 258.84 L196.09 257.85 L198.97 256.87 L201.84 255.95 L204.71 255.08 L207.59 254.24 L210.46 253.43 L213.34 252.62 L216.21 251.82 L219.08 251.02 L221.96 250.25 L224.83 249.48 L227.71 248.71 L230.58 247.91 L233.46 247.07 L236.33 246.20 L239.20 245.30 L242.08 244.39 L244.95 243.46 L247.83 242.53 L250.70 241.57 L253.58 240.58 L256.45 239.60 L259.32 238.64 L262.20 237.74 L265.07 236.89 L267.95 236.07 L270.82 235.28 L273.69 234.50 L276.57 233.72 L279.44 232.93 L282.32 232.15 L285.19 231.37 L288.07 230.61 L290.94 229.87 L293.81 229.15 L296.69 228.46 L299.56 227.79 L302.44 227.13 L305.31 226.48 L308.19 225.84 L311.06 225.20 L313.93 224.58 L316.81 223.97 L319.68 223.37 L322.56 222.79 L325.43 222.22 L328.31 221.66 L331.18 221.11 L334.05 220.57 L336.93 220.01 L339.80 219.45 L342.68 218.87 L345.55 218.29 L348.42 217.74 L351.30 217.22 L354.17 216.74 L357.05 216.28 L359.92 215.84 L362.80 215.43 L365.67 215.06 L368.54 214.73 L371.42 214.41 L374.29 214.12 L377.17 213.86 L380.04 213.63 L382.92 213.44 L385.79 213.26 L388.66 213.08 L391.54 212.93 L394.41 212.83 L397.29 212.80 L400.16 212.80 L403.03 212.80 L405.91 212.80 L408.78 212.80 L411.66 212.80 L414.53 212.82 L417.41 212.90 L420.28 213.01 L423.15 213.14 L426.03 213.26 L428.90 213.38 L431.78 213.51 L434.65 213.65 L437.53 213.79 L440.40 213.93 L443.27 214.05 L446.15 214.17 L449.02 214.28 L451.90 214.40 L454.77 214.52 L457.64 214.65 L460.52 214.78 L463.39 214.92 L466.27 215.06 L469.14 215.20 L472.02 215.35 L474.89 215.51 L477.76 215.67 L480.64 215.84 L483.51 216.02 L486.39 216.21 L489.26 216.41 L492.14 216.62 L495.01 216.83 L497.88 217.05 L500.76 217.27 L503.63 217.50 L506.51 217.72 L509.38 217.94 L512.25 218.17 L515.13 218.40 L518.00 218.63 L520.88 218.87 L523.75 219.11 L526.63 219.35 L529.50 219.60" stroke="#0000ff" stroke-width="1.60" fill="none"/>
<path d="M12.50 171.00 L92.50 87.80 M19.50 171.00 L99.50 87.80 M26.50 171.00 L106.50 87.80 M33.50 171.00 L113.50 87.80 M40.49 171.01 L120.49 87.81 M47.47 171.02 L127.47 87.82 M54.43 171.05 L134.43 87.85 M61.37 171.08 L141.37 87.88 M68.29 171.12 L148.29 87.92 M75.19 171.17 L155.19 87.97 M82.07 171.22 L162.07 88.02 M88.94 171.29 L168.94 88.09 M95.78 171.40 L175.78 88.20 M102.61 171.53 L182.61 88.33 M109.42 171.68 L189.42 88.48 M116.21 171.85 L196.21 88.65 M122.98 172.02 L202.98 88.82 M129.74 172.20 L209.74 89.00 M136.47 172.42 L216.47 89.22 M143.19 172.67 L223.19 89.47 M149.84 172.93 L229.84 89.73 M154.68 173.14 L234.68 89.94 M159.47 173.35 L239.47 90.15 M164.25 173.57 L244.25 90.37 M169.02 173.79 L249.02 90.59 M173.78 174.01 L253.78 90.81 M178.53 174.23 L258.53 91.03 M183.27 174.45 L263.27 91.25 M188.00 174.67 L268.00 91.47 M192.72 174.90 L272.72 91.70 M197.42 175.17 L277.42 91.97 M202.12 175.46 L282.12 92.26 M206.81 175.79 L286.81 92.59 M211.49 176.14 L291.49 92.94 M216.16 176.51 L296.16 93.31 M220.82 176.90 L300.82 93.70 M225.46 177.31 L305.46 94.11 M230.10 177.74 L310.10 94.54 M234.73 178.18 L314.73 94.98 M239.35 178.63 L319.35 95.43 M243.96 179.08 L323.96 95.88 M248.56 179.55 L328.56 96.35 M253.15 180.01 L333.15 96.81 M257.72 180.48 L337.72 97.28 M262.29 180.94 L342.29 97.74 M266.85 181.40 L346.85 98.20 M271.40 181.85 L351.40 98.65 M275.94 182.30 L355.94 99.10 M280.47 182.73 L360.47 99.53 M284.99 183.15 L364.99 99.95 M289.50 183.56 L369.50 100.36 M294.00 183.94 L374.00 100.74 M298.54 184.32 L378.54 101.12 M303.13 184.69 L383.13 101.49 M307.76 185.05 L387.76 101.85 M312.44 185.42 L392.44 102.22 M317.16 185.80 L397.16 102.60 M321.94 186.19 L401.94 102.99 M326.75 186.60 L406.75 103.40 M331.62 187.03 L411.62 103.83 M336.54 187.50 L416.54 104.30 M341.50 188.01 L421.50 104.81 M346.52 188.56 L426.52 105.36 M351.58 189.15 L431.58 105.95 M356.70 189.78 L436.70 106.58 M361.87 190.44 L441.87 107.24 M367.09 191.14 L447.09 107.94 M372.37 191.87 L452.37 108.67 M377.72 192.63 L457.72 109.43 M383.12 193.42 L463.12 110.22 M388.59 194.22 L468.59 111.02 M394.13 195.04 L474.13 111.84 M399.72 195.88 L479.72 112.68 M405.39 196.72 L485.39 113.52 M411.12 197.56 L491.12 114.36 M416.91 198.42 L496.91 115.22 M422.78 199.30 L502.78 116.10 M428.70 200.20 L508.70 117.00 M434.66 201.12 L514.66 117.92 M440.66 202.06 L520.66 118.86 M446.71 203.02 L526.71 119.82 M452.80 203.99 L532.80 120.79 M458.94 204.98 L538.94 121.78 M465.11 205.99 L545.11 122.79 M471.34 207.02 L551.34 123.82 M477.60 208.07 L557.60 124.87 M483.91 209.14 L563.91 125.94 M490.27 210.10 L570.27 126.90 M496.67 210.10 L576.67 126.90 M503.06 210.10 L583.06 126.90 M509.46 210.10 L589.46 126.90" stroke="#000000" stroke-width="0.80" fill="none" clip-path="url(#cb3)"/>
<path d="M72.50 125.30 L75.37 125.30 L78.25 125.30 L81.12 125.30 L84.00 125.31 L86.87 125.31 L89.75 125.32 L92.62 125.32 L95.49 125.33 L98.37 125.33 L101.24 125.34 L104.12 125.35 L106.99 125.36 L109.86 125.37 L112.74 125.37 L115.61 125.38 L118.49 125.39 L121.36 125.41 L124.24 125.42 L127.11 125.44 L129.98 125.46 L132.86 125.49 L135.73 125.52 L138.61 125.55 L141.48 125.59 L144.36 125.63 L147.23 125.67 L150.10 125.71 L152.98 125.76 L155.85 125.81 L158.73 125.86 L161.60 125.92 L164.47 125.97 L167.35 126.03 L170.22 126.10 L173.10 126.18 L175.97 126.27 L178.85 126.37 L181.72 126.48 L184.59 126.59 L187.47 126.72 L190.34 126.84 L193.22 126.98 L196.09 127.12 L198.97 127.26 L201.84 127.40 L204.71 127.55 L207.59 127.69 L210.46 127.84 L213.34 127.98 L216.21 128.12 L219.08 128.26 L221.96 128.39 L224.83 128.53 L227.71 128.67 L230.58 128.81 L233.46 128.96 L236.33 129.11 L239.20 129.27 L242.08 129.42 L244.95 129.58 L247.83 129.74 L250.70 129.90 L253.58 130.06 L256.45 130.23 L259.32 130.39 L262.20 130.56 L265.07 130.73 L267.95 130.90 L270.82 131.07 L273.69 131.24 L276.57 131.42 L279.44 131.59 L282.32 131.77 L285.19 131.95 L288.07 132.13 L290.94 132.31 L293.81 132.49 L296.69 132.67 L299.56 132.86 L302.44 133.05 L305.31 133.23 L308.19 133.42 L311.06 133.61 L313.93 133.80 L316.81 134.00 L319.68 134.19 L322.56 134.39 L325.43 134.58 L328.31 134.78 L331.18 134.98 L334.05 135.18 L336.93 135.39 L339.80 135.60 L342.68 135.81 L345.55 136.02 L348.42 136.23 L351.30 136.45 L354.17 136.67 L357.05 136.89 L359.92 137.12 L362.80 137.34 L365.67 137.57 L368.54 137.80 L371.42 138.04 L374.29 138.27 L377.17 138.51 L380.04 138.75 L382.92 139.00 L385.79 139.24 L388.66 139.49 L391.54 139.74 L394.41 139.99 L397.29 140.25 L400.16 140.51 L403.03 140.76 L405.91 141.03 L408.78 141.29 L411.66 141.56 L414.53 141.83 L417.41 142.10 L420.28 142.37 L423.15 142.64 L426.03 142.92 L428.90 143.20 L431.78 143.48 L434.65 143.76 L437.53 144.05 L440.40 144.33 L443.27 144.62 L446.15 144.91 L449.02 145.20 L451.90 145.49 L454.77 145.79 L457.64 146.09 L460.52 146.38 L463.39 146.69 L466.27 146.99 L469.14 147.30 L472.02 147.60 L474.89 147.91 L477.76 148.23 L480.64 148.54 L483.51 148.86 L486.39 149.18 L489.26 149.50 L492.14 149.82 L495.01 150.14 L497.88 150.47 L500.76 150.80 L503.63 151.13 L506.51 151.46 L509.38 151.80 L512.25 152.14 L515.13 152.48 L518.00 152.82 L520.88 153.16 L523.75 153.50 L526.63 153.85 L529.50 154.20" stroke="#000000" stroke-width="1.35" fill="none"/>
<path d="M72.50 133.50 L75.37 133.50 L78.25 133.50 L81.12 133.51 L84.00 133.51 L86.87 133.52 L89.75 133.53 L92.62 133.54 L95.49 133.56 L98.37 133.57 L101.24 133.58 L104.12 133.60 L106.99 133.62 L109.86 133.63 L112.74 133.65 L115.61 133.67 L118.49 133.69 L121.36 133.71 L124.24 133.74 L127.11 133.77 L129.98 133.80 L132.86 133.84 L135.73 133.89 L138.61 133.94 L141.48 134.00 L144.36 134.05 L147.23 134.12 L150.10 134.18 L152.98 134.25 L155.85 134.32 L158.73 134.40 L161.60 134.48 L164.47 134.56 L167.35 134.64 L170.22 134.74 L173.10 134.85 L175.97 134.98 L178.85 135.11 L181.72 135.26 L184.59 135.42 L187.47 135.58 L190.34 135.75 L193.22 135.93 L196.09 136.11 L198.97 136.30 L201.84 136.48 L204.71 136.67 L207.59 136.85 L210.46 137.03 L213.34 137.21 L216.21 137.38 L219.08 137.55 L221.96 137.71 L224.83 137.86 L227.71 138.00 L230.58 138.15 L233.46 138.31 L236.33 138.49 L239.20 138.68 L242.08 138.90 L244.95 139.13 L247.83 139.37 L250.70 139.62 L253.58 139.89 L256.45 140.17 L259.32 140.47 L262.20 140.77 L265.07 141.08 L267.95 141.40 L270.82 141.73 L273.69 142.06 L276.57 142.41 L279.44 142.75 L282.32 143.11 L285.19 143.46 L288.07 143.82 L290.94 144.19 L293.81 144.55 L296.69 144.92 L299.56 145.29 L302.44 145.65 L305.31 146.02 L308.19 146.38 L311.06 146.74 L313.93 147.10 L316.81 147.45 L319.68 147.80 L322.56 148.14 L325.43 148.48 L328.31 148.81 L331.18 149.13 L334.05 149.44 L336.93 149.75 L339.80 150.05 L342.68 150.34 L345.55 150.64 L348.42 150.93 L351.30 151.22 L354.17 151.51 L357.05 151.81 L359.92 152.11 L362.80 152.42 L365.67 152.74 L368.54 153.07 L371.42 153.41 L374.29 153.76 L377.17 154.12 L380.04 154.51 L382.92 154.91 L385.79 155.33 L388.66 155.77 L391.54 156.22 L394.41 156.70 L397.29 157.18 L400.16 157.69 L403.03 158.20 L405.91 158.73 L408.78 159.26 L411.66 159.81 L414.53 160.36 L417.41 160.92 L420.28 161.48 L423.15 162.05 L426.03 162.62 L428.90 163.19 L431.78 163.76 L434.65 164.33 L437.53 164.90 L440.40 165.46 L443.27 166.02 L446.15 166.57 L449.02 167.12 L451.90 167.65 L454.77 168.19 L457.64 168.73 L460.52 169.27 L463.39 169.81 L466.27 170.35 L469.14 170.90 L472.02 171.44 L474.89 171.98 L477.76 172.53 L480.64 173.08 L483.51 173.62 L486.39 174.17 L489.26 174.72 L492.14 175.27 L495.01 175.82 L497.88 176.37 L500.76 176.92 L503.63 177.48 L506.51 178.03 L509.38 178.59 L512.25 179.14 L515.13 179.70 L518.00 180.26 L520.88 180.82 L523.75 181.38 L526.63 181.94 L529.50 182.50" stroke="#000000" stroke-width="1.35" fill="none"/>
<path d="M72.50 129.40 L75.37 129.40 L78.25 129.40 L81.12 129.41 L84.00 129.41 L86.87 129.42 L89.75 129.43 L92.62 129.44 L95.49 129.46 L98.37 129.47 L101.24 129.48 L104.12 129.50 L106.99 129.52 L109.86 129.53 L112.74 129.55 L115.61 129.57 L118.49 129.59 L121.36 129.61 L124.24 129.64 L127.11 129.67 L129.98 129.71 L132.86 129.75 L135.73 129.80 L138.61 129.85 L141.48 129.91 L144.36 129.97 L147.23 130.03 L150.10 130.10 L152.98 130.17 L155.85 130.24 L158.73 130.31 L161.60 130.39 L164.47 130.46 L167.35 130.54 L170.22 130.62 L173.10 130.71 L175.97 130.80 L178.85 130.90 L181.72 131.01 L184.59 131.12 L187.47 131.24 L190.34 131.36 L193.22 131.48 L196.09 131.60 L198.97 131.73 L201.84 131.86 L204.71 131.99 L207.59 132.13 L210.46 132.26 L213.34 132.39 L216.21 132.53 L219.08 132.66 L221.96 132.79 L224.83 132.92 L227.71 133.05 L230.58 133.19 L233.46 133.34 L236.33 133.50 L239.20 133.67 L242.08 133.86 L244.95 134.05 L247.83 134.26 L250.70 134.48 L253.58 134.70 L256.45 134.93 L259.32 135.17 L262.20 135.42 L265.07 135.68 L267.95 135.94 L270.82 136.21 L273.69 136.48 L276.57 136.76 L279.44 137.04 L282.32 137.32 L285.19 137.61 L288.07 137.90 L290.94 138.19 L293.81 138.48 L296.69 138.77 L299.56 139.06 L302.44 139.35 L305.31 139.64 L308.19 139.93 L311.06 140.22 L313.93 140.50 L316.81 140.78 L319.68 141.06 L322.56 141.33 L325.43 141.59 L328.31 141.85 L331.18 142.10 L334.05 142.35 L336.93 142.59 L339.80 142.82 L342.68 143.05 L345.55 143.28 L348.42 143.51 L351.30 143.73 L354.17 143.96 L357.05 144.19 L359.92 144.42 L362.80 144.66 L365.67 144.91 L368.54 145.16 L371.42 145.42 L374.29 145.68 L377.17 145.96 L380.04 146.25 L382.92 146.56 L385.79 146.87 L388.66 147.20 L391.54 147.54 L394.41 147.89 L397.29 148.25 L400.16 148.62 L403.03 149.00 L405.91 149.38 L408.78 149.77 L411.66 150.17 L414.53 150.58 L417.41 150.99 L420.28 151.40 L423.15 151.82 L426.03 152.24 L428.90 152.67 L431.78 153.09 L434.65 153.52 L437.53 153.95 L440.40 154.38 L443.27 154.81 L446.15 155.23 L449.02 155.66 L451.90 156.08 L454.77 156.50 L457.64 156.93 L460.52 157.36 L463.39 157.80 L466.27 158.23 L469.14 158.67 L472.02 159.11 L474.89 159.56 L477.76 160.01 L480.64 160.46 L483.51 160.91 L486.39 161.36 L489.26 161.82 L492.14 162.28 L495.01 162.74 L497.88 163.21 L500.76 163.68 L503.63 164.15 L506.51 164.62 L509.38 165.10 L512.25 165.58 L515.13 166.06 L518.00 166.54 L520.88 167.03 L523.75 167.52 L526.63 168.01 L529.50 168.50" stroke="#000000" stroke-width="2.10" fill="none"/>
<path d="M112.70 128.00 L112.70 143.80" stroke="#ff0000" stroke-width="1.50"/>
<path d="M109.70 139.90 L115.70 139.90 L112.70 134.50 Z" fill="#ff0000"/>
<path d="M116.00 121.50 L116.00 137.00" stroke="#ff0000" stroke-width="1.50"/>
<path d="M113.00 131.90 L119.00 131.90 L116.00 126.50 Z" fill="#ff0000"/>
<path d="M185.70 124.00 L185.70 144.50" stroke="#ff0000" stroke-width="1.50"/>
<path d="M182.70 136.90 L188.70 136.90 L185.70 131.50 Z" fill="#ff0000"/>
<path d="M188.30 126.00 L188.30 145.70" stroke="#ff0000" stroke-width="1.50"/>
<path d="M185.30 137.90 L191.30 137.90 L188.30 132.50 Z" fill="#ff0000"/>
<path d="M234.60 143.00 L234.60 163.60" stroke="#ff0000" stroke-width="1.50"/>
<path d="M231.60 155.60 L237.60 155.60 L234.60 150.20 Z" fill="#ff0000"/>
<path d="M269.40 133.00 L269.40 167.20" stroke="#ff0000" stroke-width="1.50"/>
<path d="M266.40 152.20 L272.40 152.20 L269.40 146.80 Z" fill="#ff0000"/>
<path d="M270.60 133.00 L270.60 167.20" stroke="#ff0000" stroke-width="1.50"/>
<path d="M267.60 152.20 L273.60 152.20 L270.60 146.80 Z" fill="#ff0000"/>
<path d="M309.90 148.00 L309.90 179.70" stroke="#ff0000" stroke-width="1.50"/>
<path d="M306.90 166.30 L312.90 166.30 L309.90 160.90 Z" fill="#ff0000"/>
<path d="M358.80 155.00 L358.80 198.40" stroke="#ff0000" stroke-width="1.50"/>
<path d="M355.80 179.10 L361.80 179.10 L358.80 173.70 Z" fill="#ff0000"/>
<path d="M417.10 165.00 L417.10 205.00" stroke="#ff0000" stroke-width="1.50"/>
<path d="M414.10 187.70 L420.10 187.70 L417.10 182.30 Z" fill="#ff0000"/>
<path d="M420.70 169.00 L420.70 213.00" stroke="#ff0000" stroke-width="1.50"/>
<path d="M417.70 193.70 L423.70 193.70 L420.70 188.30 Z" fill="#ff0000"/>
<path d="M493.60 168.00 L493.60 202.60" stroke="#ff0000" stroke-width="1.50"/>
<path d="M490.60 187.90 L496.60 187.90 L493.60 182.50 Z" fill="#ff0000"/>
<path d="M497.80 192.00 L497.80 234.50" stroke="#ff0000" stroke-width="1.50"/>
<path d="M494.80 215.40 L500.80 215.40 L497.80 210.00 Z" fill="#ff0000"/>
<path d="M112.70 279.50 L112.70 288.50" stroke="#0000ff" stroke-width="1.60"/>
<path d="M109.70 285.30 L115.70 285.30 L112.70 279.90 Z" fill="#0000ff"/>
<path d="M116.00 270.10 L116.00 280.70" stroke="#0000ff" stroke-width="1.60"/>
<path d="M113.00 278.50 L119.00 278.50 L116.00 273.10 Z" fill="#0000ff"/>
<path d="M185.70 255.70 L185.70 273.80" stroke="#0000ff" stroke-width="1.60"/>
<path d="M182.70 265.90 L188.70 265.90 L185.70 260.50 Z" fill="#0000ff"/>
<path d="M188.30 256.70 L188.30 271.00" stroke="#0000ff" stroke-width="1.60"/>
<path d="M185.30 265.40 L191.30 265.40 L188.30 260.00 Z" fill="#0000ff"/>
<path d="M234.60 240.30 L234.60 256.70" stroke="#0000ff" stroke-width="1.60"/>
<path d="M231.60 250.80 L237.60 250.80 L234.60 245.40 Z" fill="#0000ff"/>
<path d="M235.40 240.30 L235.40 256.70" stroke="#0000ff" stroke-width="1.60"/>
<path d="M232.40 250.00 L238.40 250.00 L235.40 244.60 Z" fill="#0000ff"/>
<path d="M269.40 217.10 L269.40 242.00" stroke="#0000ff" stroke-width="1.60"/>
<path d="M266.40 231.90 L272.40 231.90 L269.40 226.50 Z" fill="#0000ff"/>
<path d="M270.60 217.10 L270.60 242.00" stroke="#0000ff" stroke-width="1.60"/>
<path d="M267.60 231.90 L273.60 231.90 L270.60 226.50 Z" fill="#0000ff"/>
<path d="M309.90 216.80 L309.90 240.50" stroke="#0000ff" stroke-width="1.60"/>
<path d="M306.90 230.10 L312.90 230.10 L309.90 224.70 Z" fill="#0000ff"/>
<path d="M358.80 198.00 L358.80 227.90" stroke="#0000ff" stroke-width="1.60"/>
<path d="M355.80 215.00 L361.80 215.00 L358.80 209.60 Z" fill="#0000ff"/>
<path d="M417.10 189.80 L417.10 222.20" stroke="#0000ff" stroke-width="1.60"/>
<path d="M414.10 208.00 L420.10 208.00 L417.10 202.60 Z" fill="#0000ff"/>
<path d="M420.70 196.90 L420.70 227.90" stroke="#0000ff" stroke-width="1.60"/>
<path d="M417.70 214.30 L423.70 214.30 L420.70 208.90 Z" fill="#0000ff"/>
<path d="M493.60 209.60 L493.60 238.60" stroke="#0000ff" stroke-width="1.60"/>
<path d="M490.60 226.90 L496.60 226.90 L493.60 221.50 Z" fill="#0000ff"/>
<path d="M497.80 196.30 L497.80 224.50" stroke="#0000ff" stroke-width="1.60"/>
<path d="M494.80 213.70 L500.80 213.70 L497.80 208.30 Z" fill="#0000ff"/>
<path d="M112.70 124.40 L112.70 142.50" stroke="#000000" stroke-width="1.15"/>
<path d="M109.70 136.40 L115.70 136.40 L112.70 131.00 Z" fill="#000000"/>
<path d="M116.00 114.90 L116.00 136.00" stroke="#000000" stroke-width="1.15"/>
<path d="M113.00 128.10 L119.00 128.10 L116.00 122.70 Z" fill="#000000"/>
<path d="M185.70 113.50 L185.70 139.00" stroke="#000000" stroke-width="1.15"/>
<path d="M182.70 128.90 L188.70 128.90 L185.70 123.50 Z" fill="#000000"/>
<path d="M188.30 118.00 L188.30 141.00" stroke="#000000" stroke-width="1.15"/>
<path d="M185.30 132.30 L191.30 132.30 L188.30 126.90 Z" fill="#000000"/>
<path d="M234.60 125.80 L234.60 152.30" stroke="#000000" stroke-width="1.15"/>
<path d="M231.60 141.10 L237.60 141.10 L234.60 135.70 Z" fill="#000000"/>
<path d="M269.40 111.20 L269.40 145.70" stroke="#000000" stroke-width="1.15"/>
<path d="M266.40 131.50 L272.40 131.50 L269.40 126.10 Z" fill="#000000"/>
<path d="M270.60 111.20 L270.60 145.70" stroke="#000000" stroke-width="1.15"/>
<path d="M267.60 131.50 L273.60 131.50 L270.60 126.10 Z" fill="#000000"/>
<path d="M309.90 121.70 L309.90 157.30" stroke="#000000" stroke-width="1.15"/>
<path d="M306.90 143.10 L312.90 143.10 L309.90 137.70 Z" fill="#000000"/>
<path d="M358.80 118.40 L358.80 167.00" stroke="#000000" stroke-width="1.15"/>
<path d="M355.80 145.40 L361.80 145.40 L358.80 140.00 Z" fill="#000000"/>
<path d="M417.10 117.70 L417.10 174.30" stroke="#000000" stroke-width="1.15"/>
<path d="M414.10 148.30 L420.10 148.30 L417.10 142.90 Z" fill="#000000"/>
<path d="M420.70 127.30 L420.70 180.00" stroke="#000000" stroke-width="1.15"/>
<path d="M417.70 157.00 L423.70 157.00 L420.70 151.60 Z" fill="#000000"/>
<path d="M493.60 137.00 L493.60 179.70" stroke="#000000" stroke-width="1.15"/>
<path d="M490.60 159.80 L496.60 159.80 L493.60 154.40 Z" fill="#000000"/>
<path d="M497.80 141.60 L497.80 196.30" stroke="#000000" stroke-width="1.15"/>
<path d="M494.80 170.50 L500.80 170.50 L497.80 165.10 Z" fill="#000000"/>
<path d="M72.50 424.50 L76.00 424.11 L79.50 423.74 L83.00 423.38 L86.51 423.03 L90.01 422.69 L93.51 422.37 L97.01 422.07 L100.51 421.79 L104.01 421.52 L107.51 421.27 L111.01 421.05 L114.52 420.85 L118.02 420.67 L121.52 420.52 L125.02 420.38 L128.52 420.25 L132.02 420.12 L135.52 419.99 L139.02 419.88 L142.53 419.77 L146.03 419.68 L149.53 419.60 L153.03 419.55 L156.53 419.51 L160.03 419.50 L163.53 419.51 L167.03 419.55 L170.54 419.60 L174.04 419.68 L177.54 419.77 L181.04 419.88 L184.54 420.00 L188.04 420.14 L191.54 420.29 L195.04 420.44 L198.55 420.61 L202.05 420.78 L205.55 420.96 L209.05 421.13 L212.55 421.31 L216.05 421.49 L219.55 421.67 L223.05 421.84 L226.56 422.01 L230.06 422.17 L233.56 422.32 L237.06 422.46 L240.56 422.60 L244.06 422.74 L247.56 422.89 L251.06 423.04 L254.57 423.19 L258.07 423.35 L261.57 423.50 L265.07 423.66 L268.57 423.81 L272.07 423.96 L275.57 424.11 L279.07 424.25 L282.58 424.38 L286.08 424.51 L289.58 424.63 L293.08 424.73 L296.58 424.83 L300.08 424.91 L303.58 424.98 L307.08 425.03 L310.59 425.08 L314.09 425.14 L317.59 425.19 L321.09 425.24 L324.59 425.28 L328.09 425.32 L331.59 425.36 L335.09 425.40 L338.60 425.43 L342.10 425.46 L345.60 425.48 L349.10 425.49 L352.60 425.50 L356.10 425.50 L359.60 425.49 L363.10 425.48 L366.61 425.45 L370.11 425.42 L373.61 425.38 L377.11 425.34 L380.61 425.28 L384.11 425.23 L387.61 425.17 L391.11 425.10 L394.62 425.03 L398.12 424.95 L401.62 424.82 L405.12 424.64 L408.62 424.43 L412.12 424.18 L415.62 423.90 L419.12 423.59 L422.63 423.26 L426.13 422.92 L429.63 422.57 L433.13 422.21 L436.63 421.84 L440.13 421.49 L443.63 421.12 L447.13 420.72 L450.64 420.30 L454.14 419.86 L457.64 419.40 L461.14 418.91 L464.64 418.41 L468.14 417.89 L471.64 417.35 L475.14 416.79 L478.65 416.22 L482.15 415.64 L485.65 415.02 L489.15 414.36 L492.65 413.67 L496.15 412.96 L499.65 412.22 L503.15 411.47 L506.66 410.70 L510.16 409.91 L513.66 409.12 L517.16 408.32 L520.66 407.51 L524.16 406.71 L527.66 405.91 L531.16 405.12 L534.67 404.33 L538.17 403.54 L541.67 402.74 L545.17 401.93 L548.67 401.12 L552.17 400.31 L555.67 399.49 L559.17 398.67 L562.68 397.85 L566.18 397.01 L569.68 396.18 L573.18 395.34 L576.68 394.49 L580.18 393.64 L583.68 392.79 L587.18 391.93 L590.69 391.06 L594.19 390.19 L597.69 389.32 L601.19 388.44 L604.69 387.55 L608.19 386.66 L611.69 385.77 L615.19 384.86 L618.70 383.96 L622.20 383.04 L625.70 382.12 L629.20 381.20 L629.20 439.50 L625.70 439.27 L622.20 439.04 L618.70 438.82 L615.19 438.61 L611.69 438.39 L608.19 438.19 L604.69 437.98 L601.19 437.79 L597.69 437.60 L594.19 437.41 L590.69 437.23 L587.18 437.06 L583.68 436.89 L580.18 436.73 L576.68 436.58 L573.18 436.43 L569.68 436.30 L566.18 436.17 L562.68 436.04 L559.17 435.93 L555.67 435.82 L552.17 435.72 L548.67 435.63 L545.17 435.55 L541.67 435.48 L538.17 435.41 L534.67 435.36 L531.16 435.32 L527.66 435.28 L524.16 435.25 L520.66 435.23 L517.16 435.21 L513.66 435.19 L510.16 435.17 L506.66 435.16 L503.15 435.14 L499.65 435.13 L496.15 435.11 L492.65 435.10 L489.15 435.07 L485.65 435.05 L482.15 435.02 L478.65 434.98 L475.14 434.92 L471.64 434.84 L468.14 434.73 L464.64 434.61 L461.14 434.49 L457.64 434.37 L454.14 434.25 L450.64 434.15 L447.13 434.07 L443.63 434.02 L440.13 434.00 L436.63 434.00 L433.13 434.00 L429.63 434.00 L426.13 434.00 L422.63 434.00 L419.12 434.00 L415.62 434.00 L412.12 434.00 L408.62 434.00 L405.12 434.00 L401.62 434.00 L398.12 434.00 L394.62 434.00 L391.11 433.98 L387.61 433.94 L384.11 433.88 L380.61 433.81 L377.11 433.72 L373.61 433.62 L370.11 433.51 L366.61 433.40 L363.10 433.28 L359.60 433.16 L356.10 433.04 L352.60 432.91 L349.10 432.76 L345.60 432.60 L342.10 432.41 L338.60 432.21 L335.09 431.99 L331.59 431.77 L328.09 431.53 L324.59 431.29 L321.09 431.05 L317.59 430.82 L314.09 430.58 L310.59 430.35 L307.08 430.13 L303.58 429.92 L300.08 429.71 L296.58 429.50 L293.08 429.29 L289.58 429.08 L286.08 428.87 L282.58 428.66 L279.07 428.46 L275.57 428.25 L272.07 428.04 L268.57 427.83 L265.07 427.62 L261.57 427.41 L258.07 427.21 L254.57 427.00 L251.06 426.79 L247.56 426.58 L244.06 426.37 L240.56 426.15 L237.06 425.94 L233.56 425.72 L230.06 425.47 L226.56 425.22 L223.05 424.95 L219.55 424.67 L216.05 424.39 L212.55 424.10 L209.05 423.81 L205.55 423.53 L202.05 423.25 L198.55 422.97 L195.04 422.71 L191.54 422.46 L188.04 422.22 L184.54 422.01 L181.04 421.81 L177.54 421.63 L174.04 421.48 L170.54 421.36 L167.03 421.28 L163.53 421.22 L160.03 421.20 L156.53 421.22 L153.03 421.30 L149.53 421.41 L146.03 421.55 L142.53 421.73 L139.02 421.92 L135.52 422.13 L132.02 422.36 L128.52 422.58 L125.02 422.81 L121.52 423.03 L118.02 423.26 L114.52 423.50 L111.01 423.76 L107.51 424.03 L104.01 424.32 L100.51 424.62 L97.01 424.94 L93.51 425.27 L90.01 425.61 L86.51 425.97 L83.00 426.33 L79.50 426.71 L76.00 427.10 L72.50 427.50 Z" fill="url(#stip)"/>
<path d="M72.50 427.20 L76.00 426.84 L79.50 426.49 L83.00 426.14 L86.51 425.80 L90.01 425.46 L93.51 425.13 L97.01 424.80 L100.51 424.48 L104.01 424.16 L107.51 423.84 L111.01 423.53 L114.52 423.22 L118.02 422.93 L121.52 422.64 L125.02 422.34 L128.52 422.00 L132.02 421.66 L135.52 421.33 L139.02 421.06 L142.53 420.85 L146.03 420.76 L149.53 420.75 L153.03 420.75 L156.53 420.75 L160.03 420.75 L163.53 420.75 L167.03 420.75 L170.54 420.75 L174.04 420.77 L177.54 420.90 L181.04 421.12 L184.54 421.41 L188.04 421.72 L191.54 422.05 L195.04 422.35 L198.55 422.61 L202.05 422.87 L205.55 423.13 L209.05 423.39 L212.55 423.65 L216.05 423.92 L219.55 424.18 L223.05 424.44 L226.56 424.70 L230.06 424.95 L233.56 425.20 L237.06 425.44 L240.56 425.67 L244.06 425.89 L247.56 426.12 L251.06 426.34 L254.57 426.55 L258.07 426.76 L261.57 426.97 L265.07 427.18 L268.57 427.38 L272.07 427.59 L275.57 427.79 L279.07 427.99 L282.58 428.19 L286.08 428.39 L289.58 428.60 L293.08 428.80 L296.58 429.00 L300.08 429.21 L303.58 429.42 L307.08 429.63 L310.59 429.86 L314.09 430.10 L317.59 430.35 L321.09 430.61 L324.59 430.86 L328.09 431.12 L331.59 431.36 L335.09 431.59 L338.60 431.81 L342.10 432.01 L345.60 432.18 L349.10 432.33 L352.60 432.44 L356.10 432.52 L359.60 432.59 L363.10 432.65 L366.61 432.72 L370.11 432.77 L373.61 432.83 L377.11 432.87 L380.61 432.91 L384.11 432.95 L387.61 432.97 L391.11 432.99 L394.62 433.00 L398.12 433.00 L401.62 432.98 L405.12 432.94 L408.62 432.89 L412.12 432.82 L415.62 432.74 L419.12 432.66 L422.63 432.56 L426.13 432.45 L429.63 432.34 L433.13 432.23 L436.63 432.11 L440.13 432.00 L443.63 431.86 L447.13 431.69 L450.64 431.50 L454.14 431.29 L457.64 431.06 L461.14 430.82 L464.64 430.57 L468.14 430.32 L471.64 430.07 L475.14 429.82 L478.65 429.59 L482.15 429.36 L485.65 429.14 L489.15 428.92 L492.65 428.69 L496.15 428.47 L499.65 428.25 L503.15 428.02 L506.66 427.80 L510.16 427.57 L513.66 427.34 L517.16 427.10 L520.66 426.87 L524.16 426.62 L527.66 426.38 L531.16 426.13 L534.67 425.85 L538.17 425.57 L541.67 425.29 L545.17 425.05 L548.67 424.84 L552.17 424.63 L555.67 424.43 L559.17 424.22 L562.68 424.02 L566.18 423.82 L569.68 423.63 L573.18 423.44 L576.68 423.25 L580.18 423.07 L583.68 422.90 L587.18 422.72 L590.69 422.56 L594.19 422.40 L597.69 422.25 L601.19 422.10 L604.69 421.97 L608.19 421.84 L611.69 421.72 L615.19 421.60 L618.70 421.50 L622.20 421.41 L625.70 421.32 L629.20 421.25" stroke="#000" stroke-width="2.2" fill="none"/>
<path d="M49.50 418.40 L67.00 426.20 L84.50 417.07 L102.00 423.24 L119.50 413.78 L137.00 420.64 L154.50 411.62 L172.00 419.81 L189.50 411.20 L207.00 420.00 L224.50 411.02 L242.00 420.36 L259.50 411.00 L277.00 421.82 L294.50 411.00 L312.00 423.94 L329.50 411.04 L347.00 426.77 L364.50 411.14 L382.00 429.64 L399.50 411.19 L417.00 431.37 L434.50 410.51 L452.00 432.99 L469.50 409.32 L487.00 435.55 L504.50 408.28 L522.00 438.73 L539.50 407.50 L557.00 439.50" stroke="#0000ff" stroke-width="0.9" fill="none" clip-path="url(#cbiso)"/>
<path d="M49.50 426.20 L67.00 418.40 L84.50 424.92 L102.00 415.32 L119.50 421.76 L137.00 412.54 L154.50 419.86 L172.00 411.36 L189.50 419.88 L207.00 411.08 L224.50 420.15 L242.00 411.00 L259.50 420.92 L277.00 411.00 L294.50 422.87 L312.00 411.00 L329.50 425.26 L347.00 411.09 L364.50 428.28 L382.00 411.19 L399.50 430.67 L417.00 410.97 L434.50 432.04 L452.00 409.92 L469.50 434.20 L487.00 408.80 L504.50 437.06 L522.00 407.74 L539.50 439.50 L557.00 407.50" stroke="#0000ff" stroke-width="0.9" fill="none" clip-path="url(#cbiso)"/>
<path d="M72.50 418.40 L75.37 418.07 L78.25 417.75 L81.12 417.43 L84.00 417.12 L86.87 416.82 L89.75 416.52 L92.62 416.23 L95.49 415.95 L98.37 415.67 L101.24 415.39 L104.12 415.12 L106.99 414.85 L109.86 414.58 L112.74 414.33 L115.61 414.08 L118.49 413.86 L121.36 413.64 L124.24 413.44 L127.11 413.24 L129.98 413.03 L132.86 412.83 L135.73 412.63 L138.61 412.44 L141.48 412.25 L144.36 412.08 L147.23 411.93 L150.10 411.79 L152.98 411.67 L155.85 411.58 L158.73 411.52 L161.60 411.48 L164.47 411.44 L167.35 411.41 L170.22 411.38 L173.10 411.35 L175.97 411.32 L178.85 411.29 L181.72 411.26 L184.59 411.24 L187.47 411.21 L190.34 411.19 L193.22 411.17 L196.09 411.15 L198.97 411.13 L201.84 411.11 L204.71 411.09 L207.59 411.08 L210.46 411.06 L213.34 411.05 L216.21 411.04 L219.08 411.03 L221.96 411.02 L224.83 411.01 L227.71 411.01 L230.58 411.00 L233.46 411.00 L236.33 411.00 L239.20 411.00 L242.08 411.00 L244.95 411.00 L247.83 411.00 L250.70 411.00 L253.58 411.00 L256.45 411.00 L259.32 411.00 L262.20 411.00 L265.07 411.00 L267.95 411.00 L270.82 411.00 L273.69 411.00 L276.57 411.00 L279.44 411.00 L282.32 411.00 L285.19 411.00 L288.07 411.00 L290.94 411.00 L293.81 411.00 L296.69 411.00 L299.56 411.00 L302.44 411.00 L305.31 411.00 L308.19 411.00 L311.06 411.00 L313.93 411.01 L316.81 411.01 L319.68 411.01 L322.56 411.02 L325.43 411.03 L328.31 411.03 L331.18 411.04 L334.05 411.05 L336.93 411.06 L339.80 411.07 L342.68 411.07 L345.55 411.08 L348.42 411.09 L351.30 411.10 L354.17 411.11 L357.05 411.12 L359.92 411.13 L362.80 411.14 L365.67 411.15 L368.54 411.16 L371.42 411.16 L374.29 411.17 L377.17 411.18 L380.04 411.18 L382.92 411.19 L385.79 411.19 L388.66 411.20 L391.54 411.20 L394.41 411.20 L397.29 411.20 L400.16 411.19 L403.03 411.17 L405.91 411.14 L408.78 411.11 L411.66 411.07 L414.53 411.02 L417.41 410.96 L420.28 410.90 L423.15 410.83 L426.03 410.75 L428.90 410.67 L431.78 410.59 L434.65 410.50 L437.53 410.41 L440.40 410.32 L443.27 410.22 L446.15 410.13 L449.02 410.03 L451.90 409.93 L454.77 409.83 L457.64 409.72 L460.52 409.63 L463.39 409.53 L466.27 409.43 L469.14 409.33 L472.02 409.24 L474.89 409.15 L477.76 409.06 L480.64 408.98 L483.51 408.90 L486.39 408.82 L489.26 408.73 L492.14 408.65 L495.01 408.56 L497.88 408.48 L500.76 408.39 L503.63 408.31 L506.51 408.22 L509.38 408.13 L512.25 408.04 L515.13 407.95 L518.00 407.86 L520.88 407.77 L523.75 407.68 L526.63 407.59 L529.50 407.50" stroke="#0000ff" stroke-width="1.35" fill="none"/>
<path d="M72.50 426.20 L75.37 425.88 L78.25 425.57 L81.12 425.27 L84.00 424.97 L86.87 424.68 L89.75 424.39 L92.62 424.11 L95.49 423.84 L98.37 423.57 L101.24 423.31 L104.12 423.04 L106.99 422.78 L109.86 422.52 L112.74 422.28 L115.61 422.05 L118.49 421.83 L121.36 421.64 L124.24 421.46 L127.11 421.27 L129.98 421.09 L132.86 420.90 L135.73 420.72 L138.61 420.54 L141.48 420.38 L144.36 420.23 L147.23 420.10 L150.10 419.98 L152.98 419.90 L155.85 419.83 L158.73 419.80 L161.60 419.80 L164.47 419.80 L167.35 419.81 L170.22 419.81 L173.10 419.82 L175.97 419.82 L178.85 419.83 L181.72 419.84 L184.59 419.86 L187.47 419.87 L190.34 419.89 L193.22 419.90 L196.09 419.92 L198.97 419.94 L201.84 419.96 L204.71 419.98 L207.59 420.00 L210.46 420.02 L213.34 420.05 L216.21 420.07 L219.08 420.10 L221.96 420.13 L224.83 420.16 L227.71 420.19 L230.58 420.22 L233.46 420.25 L236.33 420.28 L239.20 420.32 L242.08 420.36 L244.95 420.42 L247.83 420.50 L250.70 420.58 L253.58 420.68 L256.45 420.79 L259.32 420.91 L262.20 421.04 L265.07 421.18 L267.95 421.32 L270.82 421.47 L273.69 421.63 L276.57 421.79 L279.44 421.96 L282.32 422.13 L285.19 422.30 L288.07 422.48 L290.94 422.65 L293.81 422.83 L296.69 423.00 L299.56 423.18 L302.44 423.35 L305.31 423.52 L308.19 423.69 L311.06 423.88 L313.93 424.07 L316.81 424.28 L319.68 424.49 L322.56 424.71 L325.43 424.93 L328.31 425.16 L331.18 425.40 L334.05 425.64 L336.93 425.89 L339.80 426.14 L342.68 426.39 L345.55 426.64 L348.42 426.89 L351.30 427.15 L354.17 427.40 L357.05 427.65 L359.92 427.90 L362.80 428.14 L365.67 428.38 L368.54 428.62 L371.42 428.85 L374.29 429.08 L377.17 429.29 L380.04 429.50 L382.92 429.71 L385.79 429.90 L388.66 430.08 L391.54 430.26 L394.41 430.42 L397.29 430.57 L400.16 430.70 L403.03 430.83 L405.91 430.95 L408.78 431.06 L411.66 431.17 L414.53 431.28 L417.41 431.38 L420.28 431.48 L423.15 431.59 L426.03 431.69 L428.90 431.80 L431.78 431.92 L434.65 432.05 L437.53 432.18 L440.40 432.32 L443.27 432.47 L446.15 432.64 L449.02 432.81 L451.90 432.98 L454.77 433.17 L457.64 433.36 L460.52 433.56 L463.39 433.76 L466.27 433.97 L469.14 434.18 L472.02 434.39 L474.89 434.61 L477.76 434.83 L480.64 435.05 L483.51 435.27 L486.39 435.50 L489.26 435.74 L492.14 435.98 L495.01 436.22 L497.88 436.47 L500.76 436.72 L503.63 436.98 L506.51 437.25 L509.38 437.51 L512.25 437.78 L515.13 438.06 L518.00 438.34 L520.88 438.62 L523.75 438.91 L526.63 439.20 L529.50 439.50" stroke="#0000ff" stroke-width="1.35" fill="none"/>
<path d="M72.50 422.00 L75.37 421.66 L78.25 421.32 L81.12 421.00 L84.00 420.68 L86.87 420.38 L89.75 420.08 L92.62 419.80 L95.49 419.54 L98.37 419.28 L101.24 419.03 L104.12 418.79 L106.99 418.55 L109.86 418.32 L112.74 418.11 L115.61 417.90 L118.49 417.71 L121.36 417.54 L124.24 417.37 L127.11 417.20 L129.98 417.02 L132.86 416.85 L135.73 416.67 L138.61 416.51 L141.48 416.35 L144.36 416.21 L147.23 416.08 L150.10 415.98 L152.98 415.89 L155.85 415.83 L158.73 415.80 L161.60 415.80 L164.47 415.80 L167.35 415.80 L170.22 415.80 L173.10 415.80 L175.97 415.80 L178.85 415.80 L181.72 415.80 L184.59 415.80 L187.47 415.80 L190.34 415.80 L193.22 415.80 L196.09 415.80 L198.97 415.80 L201.84 415.80 L204.71 415.80 L207.59 415.80 L210.46 415.80 L213.34 415.80 L216.21 415.80 L219.08 415.80 L221.96 415.80 L224.83 415.80 L227.71 415.80 L230.58 415.80 L233.46 415.80 L236.33 415.80 L239.20 415.80 L242.08 415.81 L244.95 415.83 L247.83 415.87 L250.70 415.91 L253.58 415.96 L256.45 416.02 L259.32 416.09 L262.20 416.16 L265.07 416.24 L267.95 416.32 L270.82 416.41 L273.69 416.50 L276.57 416.59 L279.44 416.69 L282.32 416.79 L285.19 416.88 L288.07 416.98 L290.94 417.08 L293.81 417.17 L296.69 417.26 L299.56 417.35 L302.44 417.43 L305.31 417.51 L308.19 417.58 L311.06 417.66 L313.93 417.74 L316.81 417.82 L319.68 417.90 L322.56 417.97 L325.43 418.05 L328.31 418.13 L331.18 418.21 L334.05 418.30 L336.93 418.38 L339.80 418.46 L342.68 418.54 L345.55 418.62 L348.42 418.70 L351.30 418.78 L354.17 418.86 L357.05 418.94 L359.92 419.03 L362.80 419.11 L365.67 419.19 L368.54 419.27 L371.42 419.35 L374.29 419.42 L377.17 419.50 L380.04 419.58 L382.92 419.66 L385.79 419.73 L388.66 419.81 L391.54 419.89 L394.41 419.96 L397.29 420.03 L400.16 420.10 L403.03 420.17 L405.91 420.24 L408.78 420.31 L411.66 420.38 L414.53 420.44 L417.41 420.51 L420.28 420.57 L423.15 420.64 L426.03 420.70 L428.90 420.76 L431.78 420.83 L434.65 420.89 L437.53 420.95 L440.40 421.02 L443.27 421.08 L446.15 421.15 L449.02 421.21 L451.90 421.28 L454.77 421.34 L457.64 421.41 L460.52 421.48 L463.39 421.55 L466.27 421.63 L469.14 421.70 L472.02 421.78 L474.89 421.86 L477.76 421.94 L480.64 422.02 L483.51 422.10 L486.39 422.19 L489.26 422.28 L492.14 422.38 L495.01 422.47 L497.88 422.57 L500.76 422.67 L503.63 422.77 L506.51 422.87 L509.38 422.98 L512.25 423.08 L515.13 423.19 L518.00 423.30 L520.88 423.41 L523.75 423.52 L526.63 423.64 L529.50 423.75" stroke="#0000ff" stroke-width="1.45" fill="none"/>
<path d="M72.50 513.50 L75.37 511.50 L78.25 509.61 L81.12 507.86 L84.00 506.27 L86.87 504.86 L89.75 503.65 L92.62 502.59 L95.49 501.62 L98.37 500.65 L101.24 499.60 L104.12 498.43 L106.99 497.21 L109.86 495.94 L112.74 494.61 L115.61 493.21 L118.49 491.71 L121.36 490.09 L124.24 488.37 L127.11 486.58 L129.98 484.77 L132.86 482.96 L135.73 481.07 L138.61 479.13 L141.48 477.19 L144.36 475.31 L147.23 473.57 L150.10 471.89 L152.98 470.26 L155.85 468.70 L158.73 467.25 L161.60 465.96 L164.47 464.85 L167.35 463.87 L170.22 462.95 L173.10 462.05 L175.97 461.12 L178.85 460.18 L181.72 459.24 L184.59 458.33 L187.47 457.48 L190.34 456.70 L193.22 456.01 L196.09 455.45 L198.97 455.00 L201.84 454.58 L204.71 454.20 L207.59 453.85 L210.46 453.53 L213.34 453.24 L216.21 452.99 L219.08 452.78 L221.96 452.60 L224.83 452.45 L227.71 452.31 L230.58 452.19 L233.46 452.10 L236.33 452.03 L239.20 451.99 L242.08 451.96 L244.95 451.94 L247.83 451.92 L250.70 451.91 L253.58 451.89 L256.45 451.88 L259.32 451.87 L262.20 451.86 L265.07 451.84 L267.95 451.82 L270.82 451.79 L273.69 451.76 L276.57 451.72 L279.44 451.68 L282.32 451.63 L285.19 451.57 L288.07 451.51 L290.94 451.44 L293.81 451.36 L296.69 451.28 L299.56 451.19 L302.44 451.09 L305.31 450.99 L308.19 450.85 L311.06 450.67 L313.93 450.46 L316.81 450.21 L319.68 449.93 L322.56 449.63 L325.43 449.30 L328.31 448.96 L331.18 448.60 L334.05 448.16 L336.93 447.66 L339.80 447.10 L342.68 446.49 L345.55 445.86 L348.42 445.21 L351.30 444.56 L354.17 443.93 L357.05 443.31 L359.92 442.67 L362.80 442.01 L365.67 441.34 L368.54 440.66 L371.42 439.99 L374.29 439.31 L377.17 438.64 L380.04 437.99 L382.92 437.36 L385.79 436.77 L388.66 436.19 L391.54 435.61 L394.41 435.01 L397.29 434.40 L400.16 433.74 L403.03 433.03 L405.91 432.25 L408.78 431.39 L411.66 430.46 L414.53 429.46 L417.41 428.41 L420.28 427.30 L423.15 426.15 L426.03 424.95 L428.90 423.73 L431.78 422.45 L434.65 421.05 L437.53 419.56 L440.40 417.99 L443.27 416.39 L446.15 414.76 L449.02 413.16 L451.90 411.60 L454.77 410.11 L457.64 408.68 L460.52 407.26 L463.39 405.86 L466.27 404.47 L469.14 403.11 L472.02 401.77 L474.89 400.47 L477.76 399.20 L480.64 397.98 L483.51 396.77 L486.39 395.57 L489.26 394.39 L492.14 393.24 L495.01 392.13 L497.88 391.07 L500.76 390.07 L503.63 389.16 L506.51 388.32 L509.38 387.51 L512.25 386.74 L515.13 386.00 L518.00 385.31 L520.88 384.65 L523.75 384.05 L526.63 383.50 L529.50 383.00" stroke="#00ff00" stroke-width="1.6" fill="none"/>
<path d="M72.50 388.75 L75.37 388.87 L78.25 388.98 L81.12 389.10 L84.00 389.21 L86.87 389.33 L89.75 389.44 L92.62 389.55 L95.49 389.66 L98.37 389.77 L101.24 389.88 L104.12 389.98 L106.99 390.09 L109.86 390.19 L112.74 390.30 L115.61 390.40 L118.49 390.50 L121.36 390.60 L124.24 390.70 L127.11 390.79 L129.98 390.89 L132.86 390.98 L135.73 391.07 L138.61 391.16 L141.48 391.25 L144.36 391.33 L147.23 391.42 L150.10 391.50 L152.98 391.58 L155.85 391.66 L158.73 391.73 L161.60 391.80 L164.47 391.87 L167.35 391.94 L170.22 392.00 L173.10 392.06 L175.97 392.12 L178.85 392.18 L181.72 392.24 L184.59 392.30 L187.47 392.36 L190.34 392.41 L193.22 392.47 L196.09 392.53 L198.97 392.59 L201.84 392.65 L204.71 392.71 L207.59 392.77 L210.46 392.83 L213.34 392.90 L216.21 392.97 L219.08 393.04 L221.96 393.11 L224.83 393.19 L227.71 393.27 L230.58 393.36 L233.46 393.45 L236.33 393.54 L239.20 393.64 L242.08 393.75 L244.95 393.85 L247.83 393.97 L250.70 394.09 L253.58 394.21 L256.45 394.34 L259.32 394.48 L262.20 394.62 L265.07 394.77 L267.95 394.92 L270.82 395.08 L273.69 395.25 L276.57 395.42 L279.44 395.60 L282.32 395.79 L285.19 395.98 L288.07 396.18 L290.94 396.39 L293.81 396.60 L296.69 396.82 L299.56 397.05 L302.44 397.28 L305.31 397.53 L308.19 397.80 L311.06 398.10 L313.93 398.44 L316.81 398.81 L319.68 399.20 L322.56 399.62 L325.43 400.06 L328.31 400.51 L331.18 400.98 L334.05 401.46 L336.93 401.95 L339.80 402.44 L342.68 402.94 L345.55 403.43 L348.42 403.92 L351.30 404.40 L354.17 404.87 L357.05 405.33 L359.92 405.79 L362.80 406.26 L365.67 406.73 L368.54 407.21 L371.42 407.69 L374.29 408.19 L377.17 408.69 L380.04 409.21 L382.92 409.74 L385.79 410.29 L388.66 410.85 L391.54 411.41 L394.41 411.99 L397.29 412.55 L400.16 413.13 L403.03 413.70 L405.91 414.28 L408.78 414.87 L411.66 415.45 L414.53 416.04 L417.41 416.63 L420.28 417.22 L423.15 417.81 L426.03 418.40 L428.90 418.99 L431.78 419.58 L434.65 420.17 L437.53 420.75 L440.40 421.33 L443.27 421.91 L446.15 422.49 L449.02 423.06 L451.90 423.64 L454.77 424.21 L457.64 424.78 L460.52 425.36 L463.39 425.93 L466.27 426.50 L469.14 427.08 L472.02 427.65 L474.89 428.23 L477.76 428.80 L480.64 429.38 L483.51 429.96 L486.39 430.53 L489.26 431.11 L492.14 431.69 L495.01 432.27 L497.88 432.85 L500.76 433.43 L503.63 434.01 L506.51 434.59 L509.38 435.17 L512.25 435.75 L515.13 436.34 L518.00 436.92 L520.88 437.50 L523.75 438.08 L526.63 438.67 L529.50 439.25" stroke="#ff00ff" stroke-width="1.5" fill="none"/>
<rect x="380.5" y="409.5" width="7.5" height="7.5" fill="#006400"/>
<rect x="380" y="430.8" width="7.5" height="7.5" fill="#1cc4cc"/>
<path d="M440.25 315 L440.25 592" stroke="#a020f0" stroke-width="1.6" stroke-dasharray="1.6 3.4" fill="none"/>
<rect x="435" y="415.5" width="10" height="10" fill="#fff" stroke="#0000ff" stroke-width="1.6"/>
<path d="M343.5 280.95 L343.5 314.45 M335.8 297.95 L343.5 314.45 L348.5 297.95" stroke="#000" stroke-width="1.2" fill="none"/>
<path d="M343.5 559.50 L343.5 593.00 M335.8 576.50 L343.5 593.00 L348.5 576.50" stroke="#000" stroke-width="1.2" fill="none"/>
<path d="M72.40 35.90 L629.20 35.90 L629.20 593.00 L72.40 593.00 Z M72.40 314.45 L629.20 314.45 M171.05 35.90 v6.4 M171.05 308.05 v12.8 M171.05 593.00 v-6.4 M228.75 35.90 v6.4 M228.75 308.05 v12.8 M228.75 593.00 v-6.4 M269.70 35.90 v6.4 M269.70 308.05 v12.8 M269.70 593.00 v-6.4 M301.45 35.90 v6.4 M301.45 308.05 v12.8 M301.45 593.00 v-6.4 M327.40 35.90 v6.4 M327.40 308.05 v12.8 M327.40 593.00 v-6.4 M349.34 35.90 v6.4 M349.34 308.05 v12.8 M349.34 593.00 v-6.4 M368.34 35.90 v6.4 M368.34 308.05 v12.8 M368.34 593.00 v-6.4 M385.11 35.90 v6.4 M385.11 308.05 v12.8 M385.11 593.00 v-6.4 M400.10 35.90 v12.5 M400.10 301.95 v25.0 M400.10 593.00 v-12.5 M498.75 35.90 v6.4 M498.75 308.05 v12.8 M498.75 593.00 v-6.4 M556.45 35.90 v6.4 M556.45 308.05 v12.8 M556.45 593.00 v-6.4 M597.40 35.90 v6.4 M597.40 308.05 v12.8 M597.40 593.00 v-6.4 M72.40 295.88 h6.4 M629.20 295.88 h-6.4 M72.40 277.31 h6.4 M629.20 277.31 h-6.4 M72.40 258.74 h6.4 M629.20 258.74 h-6.4 M72.40 240.17 h6.4 M629.20 240.17 h-6.4 M72.40 221.60 h12.5 M629.20 221.60 h-12.5 M72.40 203.03 h6.4 M629.20 203.03 h-6.4 M72.40 184.46 h6.4 M629.20 184.46 h-6.4 M72.40 165.89 h6.4 M629.20 165.89 h-6.4 M72.40 147.32 h6.4 M629.20 147.32 h-6.4 M72.40 128.75 h12.5 M629.20 128.75 h-12.5 M72.40 110.18 h6.4 M629.20 110.18 h-6.4 M72.40 91.61 h6.4 M629.20 91.61 h-6.4 M72.40 73.04 h6.4 M629.20 73.04 h-6.4 M72.40 54.47 h6.4 M629.20 54.47 h-6.4 M72.40 581.86 h6.4 M629.20 581.86 h-6.4 M72.40 570.72 h6.4 M629.20 570.72 h-6.4 M72.40 559.57 h6.4 M629.20 559.57 h-6.4 M72.40 548.43 h6.4 M629.20 548.43 h-6.4 M72.40 537.29 h12.5 M629.20 537.29 h-12.5 M72.40 526.15 h6.4 M629.20 526.15 h-6.4 M72.40 515.01 h6.4 M629.20 515.01 h-6.4 M72.40 503.86 h6.4 M629.20 503.86 h-6.4 M72.40 492.72 h6.4 M629.20 492.72 h-6.4 M72.40 481.58 h12.5 M629.20 481.58 h-12.5 M72.40 470.44 h6.4 M629.20 470.44 h-6.4 M72.40 459.30 h6.4 M629.20 459.30 h-6.4 M72.40 448.15 h6.4 M629.20 448.15 h-6.4 M72.40 437.01 h6.4 M629.20 437.01 h-6.4 M72.40 425.87 h12.5 M629.20 425.87 h-12.5 M72.40 414.73 h6.4 M629.20 414.73 h-6.4 M72.40 403.59 h6.4 M629.20 403.59 h-6.4 M72.40 392.44 h6.4 M629.20 392.44 h-6.4 M72.40 381.30 h6.4 M629.20 381.30 h-6.4 M72.40 370.16 h12.5 M629.20 370.16 h-12.5 M72.40 359.02 h6.4 M629.20 359.02 h-6.4 M72.40 347.88 h6.4 M629.20 347.88 h-6.4 M72.40 336.73 h6.4 M629.20 336.73 h-6.4 M72.40 325.59 h6.4 M629.20 325.59 h-6.4" stroke="#000" stroke-width="1.5" fill="none"/>
<text transform="translate(27.00 228.30) scale(1.1025 1)" font-family="Liberation Sans, sans-serif" font-size="18.70" fill="#000" textLength="31.20" lengthAdjust="spacing">100</text>
<text transform="translate(27.00 135.45) scale(1.1025 1)" font-family="Liberation Sans, sans-serif" font-size="18.70" fill="#000" textLength="31.20" lengthAdjust="spacing">200</text>
<text transform="translate(27.00 42.60) scale(1.1025 1)" font-family="Liberation Sans, sans-serif" font-size="18.70" fill="#000" textLength="31.20" lengthAdjust="spacing">300</text>
<text transform="translate(27.00 543.99) scale(1.1025 1)" font-family="Liberation Sans, sans-serif" font-size="18.70" fill="#000" textLength="31.20" lengthAdjust="spacing">100</text>
<text transform="translate(27.00 488.28) scale(1.1025 1)" font-family="Liberation Sans, sans-serif" font-size="18.70" fill="#000" textLength="31.20" lengthAdjust="spacing">200</text>
<text transform="translate(27.00 432.57) scale(1.1025 1)" font-family="Liberation Sans, sans-serif" font-size="18.70" fill="#000" textLength="31.20" lengthAdjust="spacing">300</text>
<text transform="translate(27.00 376.86) scale(1.1025 1)" font-family="Liberation Sans, sans-serif" font-size="18.70" fill="#000" textLength="31.20" lengthAdjust="spacing">400</text>
<text transform="translate(27.00 321.15) scale(1.1025 1)" font-family="Liberation Sans, sans-serif" font-size="18.70" fill="#000" textLength="31.20" lengthAdjust="spacing">500</text>
<text transform="translate(50.40 599.70) scale(1.0500 1)" font-family="Liberation Sans, sans-serif" font-size="18.70" fill="#000">0</text>
<text transform="translate(66.40 616.60) scale(1.0500 1)" font-family="Liberation Sans, sans-serif" font-size="18.70" fill="#000">1</text>
<text transform="translate(389.80 616.60) scale(1.0480 1)" font-family="Liberation Sans, sans-serif" font-size="18.70" fill="#000" textLength="20.80" lengthAdjust="spacing">10</text>
<text transform="translate(268.20 25.80) scale(0.9287 1)" font-family="Liberation Serif, serif" font-size="23.00" fill="#000" stroke="#000" stroke-width="0.30">GMP</text>
<text transform="translate(325.30 25.80) scale(1.0620 1)" font-family="Liberation Serif, serif" font-size="23.00" fill="#000" stroke="#000" stroke-width="0.30" textLength="48.68" lengthAdjust="spacing">5975</text>
<text transform="translate(309.80 643.80) scale(1.1064 1)" font-family="Liberation Serif, serif" font-size="19.80" fill="#000" stroke="#000" stroke-width="0.30" textLength="74.11" lengthAdjust="spacing">R,arcsec</text>
<text transform="translate(89.00 92.80) scale(0.8000 1)" font-family="Liberation Serif, serif" font-size="23.00" fill="#000" stroke="#000" stroke-width="0.55">A</text>
<text transform="translate(89.60 364.80) scale(0.9000 1)" font-family="Liberation Serif, serif" font-size="22.50" fill="#000" stroke="#000" stroke-width="0.45">B</text>
<text transform="translate(546.70 63.60)" font-family="Liberation Serif, serif" font-size="22.50" fill="#ff0000" font-style="italic" stroke="#ff0000" stroke-width="0.30">σ</text>
<text transform="translate(560.30 70.20) scale(0.9000 1)" font-family="Liberation Serif, serif" font-size="14.50" fill="#ff0000" font-weight="bold" stroke="#ff0000" stroke-width="0.30">p</text>
<text transform="translate(568.85 64.50)" font-family="Liberation Serif, serif" font-size="26.00" fill="#ff0000" stroke="#ff0000" stroke-width="0.30">(</text>
<text transform="translate(578.00 63.60) scale(0.9600 1)" font-family="Liberation Serif, serif" font-size="22.50" fill="#ff0000" stroke="#ff0000" stroke-width="0.30">R</text>
<text transform="translate(592.80 64.50)" font-family="Liberation Serif, serif" font-size="26.00" fill="#ff0000" stroke="#ff0000" stroke-width="0.30">)</text>
<text transform="translate(546.10 105.60) scale(0.8400 1)" font-family="Liberation Serif, serif" font-size="22.00" fill="#0000ff" stroke="#0000ff" stroke-width="0.50">V</text>
<text transform="translate(559.30 111.75) scale(1.0424 1)" font-family="Liberation Serif, serif" font-size="14.50" fill="#0000ff" font-weight="bold" stroke="#0000ff" stroke-width="0.30" textLength="19.00" lengthAdjust="spacing">rot</text>
<text transform="translate(580.00 106.50)" font-family="Liberation Serif, serif" font-size="26.00" fill="#0000ff" stroke="#0000ff" stroke-width="0.30">(</text>
<text transform="translate(589.80 105.60) scale(0.9600 1)" font-family="Liberation Serif, serif" font-size="22.50" fill="#0000ff" stroke="#0000ff" stroke-width="0.30">R</text>
<text transform="translate(604.60 106.50)" font-family="Liberation Serif, serif" font-size="26.00" fill="#0000ff" stroke="#0000ff" stroke-width="0.30">)</text>
<text transform="translate(546.10 147.60) scale(0.8400 1)" font-family="Liberation Serif, serif" font-size="22.00" fill="#000" stroke="#000" stroke-width="0.50">V</text>
<text transform="translate(559.30 154.00) scale(1.0485 1)" font-family="Liberation Serif, serif" font-size="14.50" fill="#000" font-weight="bold" stroke="#000" stroke-width="0.30" textLength="25.27" lengthAdjust="spacing">rms</text>
<text transform="translate(586.75 148.50)" font-family="Liberation Serif, serif" font-size="26.00" fill="#000" stroke="#000" stroke-width="0.30">(</text>
<text transform="translate(596.60 147.60) scale(0.9600 1)" font-family="Liberation Serif, serif" font-size="22.50" fill="#000" stroke="#000" stroke-width="0.30">R</text>
<text transform="translate(610.70 148.50)" font-family="Liberation Serif, serif" font-size="26.00" fill="#000" stroke="#000" stroke-width="0.30">)</text>
<text transform="translate(546.00 542.60) scale(0.8000 1)" font-family="Liberation Serif, serif" font-size="18.50" fill="#000" stroke="#000" stroke-width="0.30">V</text>
<text transform="translate(557.10 536.60) scale(1.0865 1)" font-family="Liberation Serif, serif" font-size="11.00" fill="#000" font-weight="bold" stroke="#000" stroke-width="0.30" textLength="27.06" lengthAdjust="spacing">Schw</text>
<text transform="translate(557.40 548.60) scale(1.1000 1)" font-family="Liberation Serif, serif" font-size="11.50" fill="#000" font-weight="bold" stroke="#000" stroke-width="0.30">c</text>
<text transform="translate(587.00 543.30)" font-family="Liberation Serif, serif" font-size="21.00" fill="#000" stroke="#000" stroke-width="0.30">(</text>
<text transform="translate(595.40 542.40) scale(1.3500 1)" font-family="Liberation Serif, serif" font-size="18.50" fill="#000" stroke="#000" stroke-width="0.30">r</text>
<text transform="translate(606.40 543.30)" font-family="Liberation Serif, serif" font-size="21.00" fill="#000" stroke="#000" stroke-width="0.30">)</text>
<text transform="translate(546.00 576.50) scale(0.8000 1)" font-family="Liberation Serif, serif" font-size="18.50" fill="#0000ff" stroke="#0000ff" stroke-width="0.30">V</text>
<text transform="translate(557.40 571.20) scale(1.1349 1)" font-family="Liberation Serif, serif" font-size="11.00" fill="#0000ff" font-weight="bold" stroke="#0000ff" stroke-width="0.30" textLength="14.36" lengthAdjust="spacing">iso</text>
<text transform="translate(557.40 582.00) scale(1.1000 1)" font-family="Liberation Serif, serif" font-size="11.50" fill="#0000ff" font-weight="bold" stroke="#0000ff" stroke-width="0.30">c</text>
<text transform="translate(574.20 577.20)" font-family="Liberation Serif, serif" font-size="21.00" fill="#0000ff" stroke="#0000ff" stroke-width="0.30">(</text>
<text transform="translate(582.60 576.30) scale(1.3500 1)" font-family="Liberation Serif, serif" font-size="18.50" fill="#0000ff" stroke="#0000ff" stroke-width="0.30">r</text>
<text transform="translate(593.20 577.20)" font-family="Liberation Serif, serif" font-size="21.00" fill="#0000ff" stroke="#0000ff" stroke-width="0.30">)</text>
<text transform="translate(17.30 233.70) rotate(-90) scale(0.8000 1)" font-family="Liberation Serif, serif" font-size="22.00" fill="#000" stroke="#000" stroke-width="0.50">V</text>
<text transform="translate(23.10 219.80) rotate(-90) scale(0.8003 1)" font-family="Liberation Serif, serif" font-size="13.50" fill="#000" font-weight="bold" stroke="#000" stroke-width="0.30">rms</text>
<text transform="translate(17.30 200.00) rotate(-90)" font-family="Liberation Serif, serif" font-size="22.00" fill="#000" stroke="#000" stroke-width="0.30">,</text>
<text transform="translate(17.30 181.60) rotate(-90)" font-family="Liberation Serif, serif" font-size="21.50" fill="#000" stroke="#000" stroke-width="0.30" textLength="27.49" lengthAdjust="spacing">km</text>
<text transform="translate(17.30 141.40) rotate(-90)" font-family="Liberation Serif, serif" font-size="21.50" fill="#000" stroke="#000" stroke-width="0.30">s</text>
<text transform="translate(12.20 130.60) rotate(-90) scale(0.8170 1)" font-family="Liberation Serif, serif" font-size="13.50" fill="#000" font-weight="bold" stroke="#000" stroke-width="0.30">−1</text>
<text transform="translate(17.30 502.20) rotate(-90) scale(0.8000 1)" font-family="Liberation Serif, serif" font-size="22.00" fill="#000" stroke="#000" stroke-width="0.50">V</text>
<text transform="translate(23.10 491.20) rotate(-90)" font-family="Liberation Serif, serif" font-size="13.50" fill="#000" font-weight="bold" stroke="#000" stroke-width="0.30">c</text>
<text transform="translate(17.30 484.60) rotate(-90)" font-family="Liberation Serif, serif" font-size="22.00" fill="#000" stroke="#000" stroke-width="0.30">,</text>
<text transform="translate(17.30 469.40) rotate(-90) scale(1.0187 1)" font-family="Liberation Serif, serif" font-size="21.50" fill="#000" stroke="#000" stroke-width="0.30" textLength="27.98" lengthAdjust="spacing">km</text>
<text transform="translate(17.30 428.80) rotate(-90)" font-family="Liberation Serif, serif" font-size="21.50" fill="#000" stroke="#000" stroke-width="0.30">s</text>
<text transform="translate(12.20 418.00) rotate(-90) scale(0.8309 1)" font-family="Liberation Serif, serif" font-size="13.50" fill="#000" font-weight="bold" stroke="#000" stroke-width="0.30">−1</text>
</svg></body></html>
